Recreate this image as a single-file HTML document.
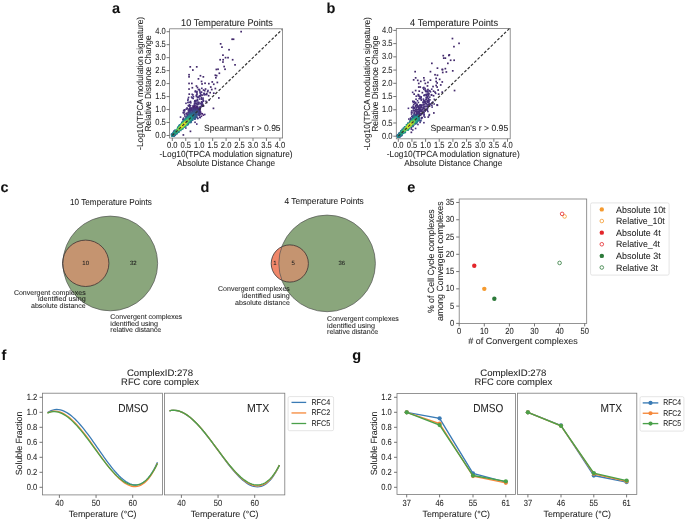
<!DOCTYPE html>
<html><head><meta charset="utf-8"><style>
html,body{margin:0;padding:0;background:#fff;}
svg{display:block;will-change:transform;text-rendering:geometricPrecision;font-family:"Liberation Sans",sans-serif;}
</style></head><body>
<svg width="685" height="520" viewBox="0 0 685 520" fill="#1e1e1e">
<style>text{stroke:#1e1e1e;stroke-width:0.06px;}</style>
<rect width="685" height="520" fill="#fff"/>
<text x="112.00" y="12.70" font-size="14.5" font-weight="bold" fill="#111">a</text>
<text x="326.60" y="12.60" font-size="14.5" font-weight="bold" fill="#111">b</text>
<text x="0.40" y="191.90" font-size="14.5" font-weight="bold" fill="#111">c</text>
<text x="200.60" y="191.90" font-size="14.5" font-weight="bold" fill="#111">d</text>
<text x="407.30" y="192.10" font-size="14.5" font-weight="bold" fill="#111">e</text>
<text x="1.50" y="359.90" font-size="14.5" font-weight="bold" fill="#111">f</text>
<text x="352.30" y="359.60" font-size="14.5" font-weight="bold" fill="#111">g</text>
<rect x="169.60" y="28.80" width="113.00" height="109.20" fill="none" stroke="#7a7a7a" stroke-width="0.8"/>
<line x1="172.30" y1="138.00" x2="172.30" y2="141.00" stroke="#666" stroke-width="0.9" />
<text x="172.30" y="147.60" font-size="8.91" text-anchor="middle" textLength="10.50" lengthAdjust="spacingAndGlyphs">0.0</text>
<line x1="166.60" y1="135.50" x2="169.60" y2="135.50" stroke="#666" stroke-width="0.9" />
<text x="165.80" y="138.10" font-size="8.91" text-anchor="end" textLength="10.50" lengthAdjust="spacingAndGlyphs">0.0</text>
<line x1="185.75" y1="138.00" x2="185.75" y2="141.00" stroke="#666" stroke-width="0.9" />
<text x="185.75" y="147.60" font-size="8.91" text-anchor="middle" textLength="10.50" lengthAdjust="spacingAndGlyphs">0.5</text>
<line x1="166.60" y1="122.53" x2="169.60" y2="122.53" stroke="#666" stroke-width="0.9" />
<text x="165.80" y="125.12" font-size="8.91" text-anchor="end" textLength="10.50" lengthAdjust="spacingAndGlyphs">0.5</text>
<line x1="199.20" y1="138.00" x2="199.20" y2="141.00" stroke="#666" stroke-width="0.9" />
<text x="199.20" y="147.60" font-size="8.91" text-anchor="middle" textLength="10.50" lengthAdjust="spacingAndGlyphs">1.0</text>
<line x1="166.60" y1="109.55" x2="169.60" y2="109.55" stroke="#666" stroke-width="0.9" />
<text x="165.80" y="112.15" font-size="8.91" text-anchor="end" textLength="10.50" lengthAdjust="spacingAndGlyphs">1.0</text>
<line x1="212.65" y1="138.00" x2="212.65" y2="141.00" stroke="#666" stroke-width="0.9" />
<text x="212.65" y="147.60" font-size="8.91" text-anchor="middle" textLength="10.50" lengthAdjust="spacingAndGlyphs">1.5</text>
<line x1="166.60" y1="96.58" x2="169.60" y2="96.58" stroke="#666" stroke-width="0.9" />
<text x="165.80" y="99.17" font-size="8.91" text-anchor="end" textLength="10.50" lengthAdjust="spacingAndGlyphs">1.5</text>
<line x1="226.10" y1="138.00" x2="226.10" y2="141.00" stroke="#666" stroke-width="0.9" />
<text x="226.10" y="147.60" font-size="8.91" text-anchor="middle" textLength="10.50" lengthAdjust="spacingAndGlyphs">2.0</text>
<line x1="166.60" y1="83.60" x2="169.60" y2="83.60" stroke="#666" stroke-width="0.9" />
<text x="165.80" y="86.20" font-size="8.91" text-anchor="end" textLength="10.50" lengthAdjust="spacingAndGlyphs">2.0</text>
<line x1="239.55" y1="138.00" x2="239.55" y2="141.00" stroke="#666" stroke-width="0.9" />
<text x="239.55" y="147.60" font-size="8.91" text-anchor="middle" textLength="10.50" lengthAdjust="spacingAndGlyphs">2.5</text>
<line x1="166.60" y1="70.62" x2="169.60" y2="70.62" stroke="#666" stroke-width="0.9" />
<text x="165.80" y="73.22" font-size="8.91" text-anchor="end" textLength="10.50" lengthAdjust="spacingAndGlyphs">2.5</text>
<line x1="253.00" y1="138.00" x2="253.00" y2="141.00" stroke="#666" stroke-width="0.9" />
<text x="253.00" y="147.60" font-size="8.91" text-anchor="middle" textLength="10.50" lengthAdjust="spacingAndGlyphs">3.0</text>
<line x1="166.60" y1="57.65" x2="169.60" y2="57.65" stroke="#666" stroke-width="0.9" />
<text x="165.80" y="60.25" font-size="8.91" text-anchor="end" textLength="10.50" lengthAdjust="spacingAndGlyphs">3.0</text>
<line x1="266.45" y1="138.00" x2="266.45" y2="141.00" stroke="#666" stroke-width="0.9" />
<text x="266.45" y="147.60" font-size="8.91" text-anchor="middle" textLength="10.50" lengthAdjust="spacingAndGlyphs">3.5</text>
<line x1="166.60" y1="44.67" x2="169.60" y2="44.67" stroke="#666" stroke-width="0.9" />
<text x="165.80" y="47.27" font-size="8.91" text-anchor="end" textLength="10.50" lengthAdjust="spacingAndGlyphs">3.5</text>
<line x1="279.90" y1="138.00" x2="279.90" y2="141.00" stroke="#666" stroke-width="0.9" />
<text x="279.90" y="147.60" font-size="8.91" text-anchor="middle" textLength="10.50" lengthAdjust="spacingAndGlyphs">4.0</text>
<line x1="166.60" y1="31.70" x2="169.60" y2="31.70" stroke="#666" stroke-width="0.9" />
<text x="165.80" y="34.30" font-size="8.91" text-anchor="end" textLength="10.50" lengthAdjust="spacingAndGlyphs">4.0</text>
<text x="227.00" y="26.10" font-size="9.8" text-anchor="middle" textLength="91.80" lengthAdjust="spacingAndGlyphs">10 Temperature Points</text>
<rect x="240.30" y="30.80" width="1.7" height="1.7" fill="#432a6c"/>
<rect x="231.30" y="38.40" width="1.7" height="1.7" fill="#432a6c"/>
<rect x="232.70" y="38.40" width="1.7" height="1.7" fill="#432a6c"/>
<rect x="219.80" y="43.00" width="1.7" height="1.7" fill="#432a6c"/>
<rect x="221.10" y="46.30" width="1.7" height="1.7" fill="#432a6c"/>
<rect x="228.20" y="48.90" width="1.7" height="1.7" fill="#432a6c"/>
<rect x="222.10" y="54.30" width="1.7" height="1.7" fill="#432a6c"/>
<rect x="224.70" y="56.80" width="1.7" height="1.7" fill="#432a6c"/>
<rect x="227.20" y="56.80" width="1.7" height="1.7" fill="#432a6c"/>
<rect x="219.30" y="58.90" width="1.7" height="1.7" fill="#432a6c"/>
<rect x="222.30" y="58.90" width="1.7" height="1.7" fill="#432a6c"/>
<rect x="222.10" y="61.20" width="1.7" height="1.7" fill="#432a6c"/>
<rect x="231.80" y="58.90" width="1.7" height="1.7" fill="#432a6c"/>
<rect x="234.20" y="64.00" width="1.7" height="1.7" fill="#432a6c"/>
<rect x="189.40" y="66.00" width="1.7" height="1.7" fill="#432a6c"/>
<rect x="195.90" y="66.00" width="1.7" height="1.7" fill="#432a6c"/>
<rect x="223.30" y="65.70" width="1.7" height="1.7" fill="#432a6c"/>
<rect x="215.50" y="68.60" width="1.7" height="1.7" fill="#432a6c"/>
<rect x="217.20" y="68.40" width="1.7" height="1.7" fill="#432a6c"/>
<rect x="224.20" y="68.40" width="1.7" height="1.7" fill="#432a6c"/>
<rect x="192.00" y="69.20" width="1.7" height="1.7" fill="#432a6c"/>
<rect x="218.50" y="72.40" width="1.7" height="1.7" fill="#432a6c"/>
<rect x="188.20" y="73.90" width="1.7" height="1.7" fill="#432a6c"/>
<rect x="188.20" y="76.00" width="1.7" height="1.7" fill="#432a6c"/>
<rect x="199.60" y="74.90" width="1.7" height="1.7" fill="#432a6c"/>
<rect x="202.50" y="76.00" width="1.7" height="1.7" fill="#432a6c"/>
<rect x="214.50" y="74.40" width="1.7" height="1.7" fill="#432a6c"/>
<rect x="215.80" y="74.80" width="1.7" height="1.7" fill="#432a6c"/>
<rect x="215.00" y="76.90" width="1.7" height="1.7" fill="#432a6c"/>
<rect x="197.60" y="78.00" width="1.7" height="1.7" fill="#432a6c"/>
<rect x="200.70" y="80.60" width="1.7" height="1.7" fill="#432a6c"/>
<rect x="201.20" y="83.10" width="1.7" height="1.7" fill="#432a6c"/>
<rect x="204.20" y="82.40" width="1.7" height="1.7" fill="#432a6c"/>
<rect x="208.00" y="82.80" width="1.7" height="1.7" fill="#432a6c"/>
<rect x="211.40" y="81.10" width="1.7" height="1.7" fill="#432a6c"/>
<rect x="212.90" y="83.40" width="1.7" height="1.7" fill="#432a6c"/>
<rect x="216.50" y="81.60" width="1.7" height="1.7" fill="#432a6c"/>
<rect x="188.20" y="82.60" width="1.7" height="1.7" fill="#432a6c"/>
<rect x="191.00" y="82.60" width="1.7" height="1.7" fill="#432a6c"/>
<rect x="195.60" y="85.20" width="1.7" height="1.7" fill="#432a6c"/>
<rect x="196.60" y="86.70" width="1.7" height="1.7" fill="#432a6c"/>
<rect x="198.60" y="88.70" width="1.7" height="1.7" fill="#432a6c"/>
<rect x="202.70" y="89.20" width="1.7" height="1.7" fill="#432a6c"/>
<rect x="204.70" y="88.20" width="1.7" height="1.7" fill="#432a6c"/>
<rect x="206.80" y="90.80" width="1.7" height="1.7" fill="#432a6c"/>
<rect x="209.90" y="86.20" width="1.7" height="1.7" fill="#432a6c"/>
<rect x="210.90" y="88.70" width="1.7" height="1.7" fill="#432a6c"/>
<rect x="188.20" y="88.20" width="1.7" height="1.7" fill="#432a6c"/>
<rect x="191.50" y="86.90" width="1.7" height="1.7" fill="#432a6c"/>
<rect x="214.50" y="87.70" width="1.7" height="1.7" fill="#432a6c"/>
<rect x="188.40" y="93.30" width="1.7" height="1.7" fill="#432a6c"/>
<rect x="192.00" y="94.00" width="1.7" height="1.7" fill="#432a6c"/>
<rect x="218.00" y="97.10" width="1.7" height="1.7" fill="#432a6c"/>
<rect x="212.60" y="107.50" width="1.7" height="1.7" fill="#432a6c"/>
<rect x="189.60" y="130.50" width="1.7" height="1.7" fill="#432a6c"/>
<rect x="182.50" y="134.10" width="1.7" height="1.7" fill="#432a6c"/>
<rect x="194.50" y="90.80" width="1.7" height="1.7" fill="#432a6c"/>
<rect x="196.10" y="93.80" width="1.7" height="1.7" fill="#432a6c"/>
<rect x="199.20" y="94.90" width="1.7" height="1.7" fill="#432a6c"/>
<rect x="201.20" y="94.30" width="1.7" height="1.7" fill="#432a6c"/>
<rect x="205.80" y="92.80" width="1.7" height="1.7" fill="#432a6c"/>
<rect x="207.80" y="94.90" width="1.7" height="1.7" fill="#432a6c"/>
<rect x="209.30" y="91.80" width="1.7" height="1.7" fill="#432a6c"/>
<rect x="212.90" y="92.30" width="1.7" height="1.7" fill="#432a6c"/>
<rect x="190.67" y="114.17" width="1.6" height="1.6" fill="#46307a"/>
<rect x="200.77" y="104.40" width="1.6" height="1.6" fill="#46307a"/>
<rect x="187.12" y="120.33" width="1.6" height="1.6" fill="#46307a"/>
<rect x="193.62" y="110.38" width="1.6" height="1.6" fill="#46307a"/>
<rect x="185.49" y="116.11" width="1.6" height="1.6" fill="#46307a"/>
<rect x="193.29" y="112.70" width="1.6" height="1.6" fill="#46307a"/>
<rect x="198.67" y="107.07" width="1.6" height="1.6" fill="#46307a"/>
<rect x="188.57" y="107.95" width="1.6" height="1.6" fill="#46307a"/>
<rect x="192.54" y="112.81" width="1.6" height="1.6" fill="#46307a"/>
<rect x="186.14" y="123.38" width="1.6" height="1.6" fill="#46307a"/>
<rect x="196.95" y="111.20" width="1.6" height="1.6" fill="#46307a"/>
<rect x="194.97" y="114.07" width="1.6" height="1.6" fill="#46307a"/>
<rect x="190.05" y="116.34" width="1.6" height="1.6" fill="#46307a"/>
<rect x="195.80" y="110.33" width="1.6" height="1.6" fill="#46307a"/>
<rect x="188.13" y="116.46" width="1.6" height="1.6" fill="#46307a"/>
<rect x="194.25" y="121.50" width="1.6" height="1.6" fill="#46307a"/>
<rect x="179.73" y="116.32" width="1.6" height="1.6" fill="#46307a"/>
<rect x="189.97" y="117.95" width="1.6" height="1.6" fill="#46307a"/>
<rect x="187.52" y="123.13" width="1.6" height="1.6" fill="#46307a"/>
<rect x="184.08" y="115.24" width="1.6" height="1.6" fill="#46307a"/>
<rect x="196.50" y="105.63" width="1.6" height="1.6" fill="#46307a"/>
<rect x="186.63" y="115.54" width="1.6" height="1.6" fill="#46307a"/>
<rect x="194.14" y="113.91" width="1.6" height="1.6" fill="#46307a"/>
<rect x="198.55" y="111.10" width="1.6" height="1.6" fill="#46307a"/>
<rect x="200.62" y="96.56" width="1.6" height="1.6" fill="#46307a"/>
<rect x="198.74" y="107.69" width="1.6" height="1.6" fill="#46307a"/>
<rect x="193.55" y="118.18" width="1.6" height="1.6" fill="#46307a"/>
<rect x="185.92" y="120.55" width="1.6" height="1.6" fill="#46307a"/>
<rect x="182.31" y="118.83" width="1.6" height="1.6" fill="#46307a"/>
<rect x="203.95" y="113.67" width="1.6" height="1.6" fill="#46307a"/>
<rect x="191.72" y="113.44" width="1.6" height="1.6" fill="#46307a"/>
<rect x="184.09" y="121.60" width="1.6" height="1.6" fill="#46307a"/>
<rect x="194.06" y="107.79" width="1.6" height="1.6" fill="#46307a"/>
<rect x="195.34" y="106.64" width="1.6" height="1.6" fill="#46307a"/>
<rect x="196.00" y="123.27" width="1.6" height="1.6" fill="#46307a"/>
<rect x="198.08" y="108.21" width="1.6" height="1.6" fill="#46307a"/>
<rect x="185.04" y="127.20" width="1.6" height="1.6" fill="#46307a"/>
<rect x="190.12" y="109.60" width="1.6" height="1.6" fill="#46307a"/>
<rect x="192.60" y="114.26" width="1.6" height="1.6" fill="#46307a"/>
<rect x="182.28" y="118.44" width="1.6" height="1.6" fill="#46307a"/>
<rect x="195.87" y="116.46" width="1.6" height="1.6" fill="#46307a"/>
<rect x="201.54" y="102.18" width="1.6" height="1.6" fill="#46307a"/>
<rect x="188.67" y="105.14" width="1.6" height="1.6" fill="#46307a"/>
<rect x="180.96" y="121.90" width="1.6" height="1.6" fill="#46307a"/>
<rect x="198.66" y="108.03" width="1.6" height="1.6" fill="#46307a"/>
<rect x="199.49" y="116.81" width="1.6" height="1.6" fill="#46307a"/>
<rect x="189.01" y="114.27" width="1.6" height="1.6" fill="#46307a"/>
<rect x="191.85" y="115.64" width="1.6" height="1.6" fill="#46307a"/>
<rect x="188.34" y="112.09" width="1.6" height="1.6" fill="#46307a"/>
<rect x="194.05" y="113.54" width="1.6" height="1.6" fill="#46307a"/>
<rect x="193.02" y="112.87" width="1.6" height="1.6" fill="#46307a"/>
<rect x="195.03" y="108.28" width="1.6" height="1.6" fill="#46307a"/>
<rect x="188.82" y="121.25" width="1.6" height="1.6" fill="#46307a"/>
<rect x="195.08" y="110.95" width="1.6" height="1.6" fill="#46307a"/>
<rect x="188.06" y="120.93" width="1.6" height="1.6" fill="#46307a"/>
<rect x="185.10" y="120.82" width="1.6" height="1.6" fill="#46307a"/>
<rect x="194.57" y="113.82" width="1.6" height="1.6" fill="#46307a"/>
<rect x="196.21" y="110.88" width="1.6" height="1.6" fill="#46307a"/>
<rect x="194.57" y="109.76" width="1.6" height="1.6" fill="#46307a"/>
<rect x="191.41" y="116.03" width="1.6" height="1.6" fill="#46307a"/>
<rect x="185.14" y="117.33" width="1.6" height="1.6" fill="#46307a"/>
<rect x="181.28" y="122.51" width="1.6" height="1.6" fill="#46307a"/>
<rect x="198.28" y="109.32" width="1.6" height="1.6" fill="#46307a"/>
<rect x="194.91" y="112.45" width="1.6" height="1.6" fill="#46307a"/>
<rect x="196.61" y="110.07" width="1.6" height="1.6" fill="#46307a"/>
<rect x="190.10" y="120.03" width="1.6" height="1.6" fill="#46307a"/>
<rect x="186.35" y="120.44" width="1.6" height="1.6" fill="#46307a"/>
<rect x="193.19" y="117.26" width="1.6" height="1.6" fill="#46307a"/>
<rect x="197.58" y="107.96" width="1.6" height="1.6" fill="#46307a"/>
<rect x="199.51" y="112.16" width="1.6" height="1.6" fill="#46307a"/>
<rect x="183.21" y="122.22" width="1.6" height="1.6" fill="#46307a"/>
<rect x="194.01" y="113.18" width="1.6" height="1.6" fill="#46307a"/>
<rect x="195.90" y="107.13" width="1.6" height="1.6" fill="#46307a"/>
<rect x="187.54" y="116.99" width="1.6" height="1.6" fill="#46307a"/>
<rect x="190.47" y="120.91" width="1.6" height="1.6" fill="#46307a"/>
<rect x="183.62" y="119.48" width="1.6" height="1.6" fill="#46307a"/>
<rect x="199.19" y="110.84" width="1.6" height="1.6" fill="#46307a"/>
<rect x="194.53" y="113.85" width="1.6" height="1.6" fill="#46307a"/>
<rect x="197.12" y="106.67" width="1.6" height="1.6" fill="#46307a"/>
<rect x="191.19" y="111.56" width="1.6" height="1.6" fill="#46307a"/>
<rect x="196.34" y="107.35" width="1.6" height="1.6" fill="#46307a"/>
<rect x="187.48" y="104.85" width="1.6" height="1.6" fill="#46307a"/>
<rect x="187.50" y="109.26" width="1.6" height="1.6" fill="#46307a"/>
<rect x="189.18" y="106.56" width="1.6" height="1.6" fill="#46307a"/>
<rect x="185.34" y="108.36" width="1.6" height="1.6" fill="#46307a"/>
<rect x="201.25" y="101.52" width="1.6" height="1.6" fill="#46307a"/>
<rect x="200.16" y="93.91" width="1.6" height="1.6" fill="#46307a"/>
<rect x="198.24" y="110.46" width="1.6" height="1.6" fill="#46307a"/>
<rect x="186.36" y="115.30" width="1.6" height="1.6" fill="#46307a"/>
<rect x="192.12" y="105.20" width="1.6" height="1.6" fill="#46307a"/>
<rect x="197.97" y="101.88" width="1.6" height="1.6" fill="#46307a"/>
<rect x="189.80" y="117.11" width="1.6" height="1.6" fill="#46307a"/>
<rect x="196.80" y="99.41" width="1.6" height="1.6" fill="#46307a"/>
<rect x="187.29" y="113.39" width="1.6" height="1.6" fill="#46307a"/>
<rect x="185.89" y="118.88" width="1.6" height="1.6" fill="#46307a"/>
<rect x="189.11" y="115.12" width="1.6" height="1.6" fill="#46307a"/>
<rect x="191.72" y="112.23" width="1.6" height="1.6" fill="#46307a"/>
<rect x="191.99" y="110.28" width="1.6" height="1.6" fill="#46307a"/>
<rect x="201.21" y="104.01" width="1.6" height="1.6" fill="#46307a"/>
<rect x="191.33" y="110.19" width="1.6" height="1.6" fill="#46307a"/>
<rect x="189.31" y="118.92" width="1.6" height="1.6" fill="#46307a"/>
<rect x="200.62" y="91.52" width="1.6" height="1.6" fill="#46307a"/>
<rect x="189.04" y="108.47" width="1.6" height="1.6" fill="#46307a"/>
<rect x="190.50" y="115.61" width="1.6" height="1.6" fill="#46307a"/>
<rect x="203.26" y="92.55" width="1.6" height="1.6" fill="#46307a"/>
<rect x="202.60" y="99.99" width="1.6" height="1.6" fill="#46307a"/>
<rect x="192.85" y="115.50" width="1.6" height="1.6" fill="#46307a"/>
<rect x="186.54" y="107.95" width="1.6" height="1.6" fill="#46307a"/>
<rect x="192.80" y="107.35" width="1.6" height="1.6" fill="#46307a"/>
<rect x="191.39" y="93.51" width="1.6" height="1.6" fill="#46307a"/>
<rect x="200.92" y="98.42" width="1.6" height="1.6" fill="#46307a"/>
<rect x="192.41" y="97.68" width="1.6" height="1.6" fill="#46307a"/>
<rect x="186.81" y="114.36" width="1.6" height="1.6" fill="#46307a"/>
<rect x="203.34" y="92.90" width="1.6" height="1.6" fill="#46307a"/>
<rect x="194.76" y="99.73" width="1.6" height="1.6" fill="#46307a"/>
<rect x="187.13" y="116.70" width="1.6" height="1.6" fill="#46307a"/>
<rect x="183.80" y="113.64" width="1.6" height="1.6" fill="#46307a"/>
<rect x="194.28" y="100.05" width="1.6" height="1.6" fill="#46307a"/>
<rect x="188.03" y="111.11" width="1.6" height="1.6" fill="#46307a"/>
<rect x="197.20" y="108.26" width="1.6" height="1.6" fill="#46307a"/>
<rect x="197.17" y="96.61" width="1.6" height="1.6" fill="#46307a"/>
<rect x="186.82" y="120.16" width="1.6" height="1.6" fill="#46307a"/>
<rect x="198.72" y="95.06" width="1.6" height="1.6" fill="#46307a"/>
<rect x="199.25" y="105.87" width="1.6" height="1.6" fill="#46307a"/>
<rect x="203.28" y="94.04" width="1.6" height="1.6" fill="#46307a"/>
<rect x="199.73" y="106.61" width="1.6" height="1.6" fill="#46307a"/>
<rect x="198.85" y="89.90" width="1.6" height="1.6" fill="#46307a"/>
<rect x="193.53" y="110.09" width="1.6" height="1.6" fill="#46307a"/>
<rect x="185.20" y="102.53" width="1.6" height="1.6" fill="#46307a"/>
<rect x="188.34" y="119.98" width="1.6" height="1.6" fill="#46307a"/>
<rect x="205.84" y="101.80" width="1.6" height="1.6" fill="#46307a"/>
<rect x="196.82" y="96.32" width="1.6" height="1.6" fill="#46307a"/>
<rect x="201.01" y="87.52" width="1.6" height="1.6" fill="#46307a"/>
<rect x="188.98" y="112.73" width="1.6" height="1.6" fill="#46307a"/>
<rect x="199.52" y="92.67" width="1.6" height="1.6" fill="#46307a"/>
<rect x="188.57" y="110.07" width="1.6" height="1.6" fill="#46307a"/>
<rect x="188.66" y="103.84" width="1.6" height="1.6" fill="#46307a"/>
<rect x="190.54" y="112.86" width="1.6" height="1.6" fill="#46307a"/>
<rect x="194.50" y="100.41" width="1.6" height="1.6" fill="#46307a"/>
<rect x="196.65" y="111.37" width="1.6" height="1.6" fill="#46307a"/>
<rect x="189.75" y="107.40" width="1.6" height="1.6" fill="#46307a"/>
<rect x="193.44" y="105.99" width="1.6" height="1.6" fill="#46307a"/>
<rect x="195.85" y="109.50" width="1.6" height="1.6" fill="#46307a"/>
<rect x="200.20" y="102.38" width="1.6" height="1.6" fill="#46307a"/>
<rect x="198.26" y="112.31" width="1.6" height="1.6" fill="#46307a"/>
<rect x="183.68" y="110.08" width="1.6" height="1.6" fill="#46307a"/>
<rect x="189.63" y="112.79" width="1.6" height="1.6" fill="#46307a"/>
<rect x="197.89" y="102.60" width="1.6" height="1.6" fill="#46307a"/>
<rect x="194.72" y="108.93" width="1.6" height="1.6" fill="#46307a"/>
<rect x="191.10" y="116.16" width="1.6" height="1.6" fill="#46307a"/>
<rect x="193.73" y="101.19" width="1.6" height="1.6" fill="#46307a"/>
<rect x="194.35" y="107.00" width="1.6" height="1.6" fill="#46307a"/>
<rect x="194.65" y="90.20" width="1.6" height="1.6" fill="#46307a"/>
<rect x="189.78" y="100.69" width="1.6" height="1.6" fill="#46307a"/>
<rect x="183.15" y="111.94" width="1.6" height="1.6" fill="#46307a"/>
<rect x="187.14" y="116.30" width="1.6" height="1.6" fill="#46307a"/>
<rect x="187.20" y="111.60" width="1.6" height="1.6" fill="#46307a"/>
<rect x="205.21" y="100.47" width="1.6" height="1.6" fill="#46307a"/>
<rect x="185.54" y="112.95" width="1.6" height="1.6" fill="#46307a"/>
<rect x="193.44" y="108.57" width="1.6" height="1.6" fill="#46307a"/>
<rect x="183.75" y="109.62" width="1.6" height="1.6" fill="#46307a"/>
<rect x="199.03" y="95.47" width="1.6" height="1.6" fill="#46307a"/>
<rect x="187.05" y="99.55" width="1.6" height="1.6" fill="#46307a"/>
<rect x="182.81" y="117.32" width="1.6" height="1.6" fill="#46307a"/>
<rect x="189.77" y="104.85" width="1.6" height="1.6" fill="#46307a"/>
<rect x="195.00" y="116.50" width="1.6" height="1.6" fill="#46307a"/>
<rect x="194.15" y="110.08" width="1.6" height="1.6" fill="#46307a"/>
<rect x="200.24" y="105.90" width="1.6" height="1.6" fill="#46307a"/>
<rect x="192.99" y="114.95" width="1.6" height="1.6" fill="#46307a"/>
<rect x="187.09" y="101.70" width="1.6" height="1.6" fill="#46307a"/>
<rect x="196.19" y="92.35" width="1.6" height="1.6" fill="#46307a"/>
<rect x="196.21" y="90.79" width="1.6" height="1.6" fill="#46307a"/>
<rect x="186.12" y="113.15" width="1.6" height="1.6" fill="#46307a"/>
<rect x="198.89" y="98.24" width="1.6" height="1.6" fill="#46307a"/>
<rect x="201.91" y="105.09" width="1.6" height="1.6" fill="#46307a"/>
<rect x="188.88" y="115.13" width="1.6" height="1.6" fill="#46307a"/>
<rect x="194.07" y="100.02" width="1.6" height="1.6" fill="#46307a"/>
<rect x="189.88" y="109.37" width="1.6" height="1.6" fill="#46307a"/>
<rect x="193.57" y="114.31" width="1.6" height="1.6" fill="#46307a"/>
<rect x="196.83" y="101.25" width="1.6" height="1.6" fill="#46307a"/>
<rect x="196.92" y="103.81" width="1.6" height="1.6" fill="#46307a"/>
<rect x="194.01" y="108.07" width="1.6" height="1.6" fill="#46307a"/>
<rect x="197.26" y="110.81" width="1.6" height="1.6" fill="#46307a"/>
<rect x="186.88" y="115.90" width="1.6" height="1.6" fill="#46307a"/>
<rect x="201.23" y="104.79" width="1.6" height="1.6" fill="#46307a"/>
<rect x="189.99" y="102.03" width="1.6" height="1.6" fill="#46307a"/>
<rect x="204.57" y="93.81" width="1.6" height="1.6" fill="#46307a"/>
<rect x="195.65" y="95.75" width="1.6" height="1.6" fill="#46307a"/>
<rect x="188.32" y="108.60" width="1.6" height="1.6" fill="#46307a"/>
<rect x="188.51" y="113.93" width="1.6" height="1.6" fill="#46307a"/>
<rect x="196.71" y="109.67" width="1.6" height="1.6" fill="#46307a"/>
<rect x="189.61" y="111.17" width="1.6" height="1.6" fill="#46307a"/>
<rect x="195.48" y="100.09" width="1.6" height="1.6" fill="#46307a"/>
<rect x="192.68" y="95.92" width="1.6" height="1.6" fill="#46307a"/>
<rect x="182.43" y="111.86" width="1.6" height="1.6" fill="#46307a"/>
<rect x="202.71" y="105.35" width="1.6" height="1.6" fill="#46307a"/>
<rect x="188.74" y="117.58" width="1.6" height="1.6" fill="#46307a"/>
<rect x="202.26" y="98.57" width="1.6" height="1.6" fill="#46307a"/>
<rect x="200.78" y="100.94" width="1.6" height="1.6" fill="#46307a"/>
<rect x="202.24" y="97.30" width="1.6" height="1.6" fill="#46307a"/>
<rect x="197.98" y="101.60" width="1.6" height="1.6" fill="#46307a"/>
<rect x="186.40" y="117.12" width="1.6" height="1.6" fill="#46307a"/>
<rect x="195.20" y="110.93" width="1.6" height="1.6" fill="#46307a"/>
<rect x="195.47" y="105.94" width="1.6" height="1.6" fill="#46307a"/>
<rect x="198.86" y="109.55" width="1.6" height="1.6" fill="#46307a"/>
<rect x="190.98" y="114.09" width="1.6" height="1.6" fill="#46307a"/>
<rect x="197.84" y="96.46" width="1.6" height="1.6" fill="#46307a"/>
<rect x="188.43" y="109.79" width="1.6" height="1.6" fill="#46307a"/>
<rect x="195.45" y="94.61" width="1.6" height="1.6" fill="#46307a"/>
<rect x="195.57" y="109.71" width="1.6" height="1.6" fill="#46307a"/>
<rect x="188.95" y="105.02" width="1.6" height="1.6" fill="#46307a"/>
<rect x="188.11" y="105.14" width="1.6" height="1.6" fill="#46307a"/>
<rect x="207.19" y="89.69" width="1.6" height="1.6" fill="#46307a"/>
<rect x="199.44" y="109.13" width="1.6" height="1.6" fill="#46307a"/>
<rect x="202.53" y="100.30" width="1.6" height="1.6" fill="#46307a"/>
<rect x="191.76" y="109.36" width="1.6" height="1.6" fill="#46307a"/>
<rect x="198.50" y="95.82" width="1.6" height="1.6" fill="#46307a"/>
<rect x="196.35" y="103.64" width="1.6" height="1.6" fill="#46307a"/>
<rect x="200.71" y="91.49" width="1.6" height="1.6" fill="#46307a"/>
<rect x="188.39" y="113.95" width="1.6" height="1.6" fill="#46307a"/>
<rect x="194.60" y="101.12" width="1.6" height="1.6" fill="#46307a"/>
<rect x="193.70" y="110.53" width="1.6" height="1.6" fill="#46307a"/>
<rect x="195.78" y="91.37" width="1.6" height="1.6" fill="#46307a"/>
<rect x="191.72" y="113.27" width="1.6" height="1.6" fill="#46307a"/>
<rect x="186.24" y="107.12" width="1.6" height="1.6" fill="#46307a"/>
<rect x="192.41" y="112.38" width="1.6" height="1.6" fill="#46307a"/>
<rect x="198.82" y="108.65" width="1.6" height="1.6" fill="#46307a"/>
<rect x="190.21" y="108.09" width="1.6" height="1.6" fill="#46307a"/>
<rect x="197.67" y="88.72" width="1.6" height="1.6" fill="#46307a"/>
<rect x="190.31" y="108.69" width="1.6" height="1.6" fill="#46307a"/>
<rect x="190.80" y="96.24" width="1.6" height="1.6" fill="#46307a"/>
<rect x="193.65" y="102.98" width="1.6" height="1.6" fill="#46307a"/>
<rect x="192.97" y="109.03" width="1.6" height="1.6" fill="#46307a"/>
<rect x="189.38" y="109.96" width="1.6" height="1.6" fill="#46307a"/>
<rect x="187.27" y="98.32" width="1.6" height="1.6" fill="#46307a"/>
<rect x="202.06" y="103.72" width="1.6" height="1.6" fill="#46307a"/>
<rect x="195.94" y="106.37" width="1.6" height="1.6" fill="#46307a"/>
<rect x="192.91" y="107.87" width="1.6" height="1.6" fill="#46307a"/>
<rect x="199.15" y="91.28" width="1.6" height="1.6" fill="#46307a"/>
<rect x="185.63" y="112.46" width="1.6" height="1.6" fill="#46307a"/>
<rect x="189.18" y="115.36" width="1.6" height="1.6" fill="#46307a"/>
<rect x="196.67" y="106.27" width="1.6" height="1.6" fill="#46307a"/>
<rect x="196.58" y="98.58" width="1.6" height="1.6" fill="#46307a"/>
<rect x="192.39" y="106.62" width="1.6" height="1.6" fill="#46307a"/>
<rect x="203.96" y="89.97" width="1.6" height="1.6" fill="#46307a"/>
<rect x="192.16" y="109.20" width="1.6" height="1.6" fill="#46307a"/>
<rect x="196.46" y="103.25" width="1.6" height="1.6" fill="#46307a"/>
<rect x="185.01" y="118.49" width="1.6" height="1.6" fill="#46307a"/>
<rect x="183.64" y="108.99" width="1.6" height="1.6" fill="#46307a"/>
<rect x="187.80" y="96.64" width="1.6" height="1.6" fill="#46307a"/>
<rect x="208.31" y="99.26" width="1.6" height="1.6" fill="#46307a"/>
<rect x="195.57" y="102.37" width="1.6" height="1.6" fill="#46307a"/>
<rect x="201.32" y="103.65" width="1.6" height="1.6" fill="#46307a"/>
<rect x="182.85" y="111.70" width="1.6" height="1.6" fill="#46307a"/>
<rect x="198.06" y="103.20" width="1.6" height="1.6" fill="#46307a"/>
<rect x="195.14" y="108.96" width="1.6" height="1.6" fill="#46307a"/>
<rect x="192.27" y="112.63" width="1.6" height="1.6" fill="#46307a"/>
<rect x="199.86" y="102.97" width="1.6" height="1.6" fill="#46307a"/>
<rect x="192.31" y="115.36" width="1.6" height="1.6" fill="#46307a"/>
<rect x="195.58" y="107.63" width="1.6" height="1.6" fill="#46307a"/>
<rect x="193.55" y="111.51" width="1.6" height="1.6" fill="#46307a"/>
<rect x="194.00" y="102.99" width="1.6" height="1.6" fill="#46307a"/>
<rect x="194.34" y="111.00" width="1.6" height="1.6" fill="#46307a"/>
<rect x="186.46" y="115.60" width="1.6" height="1.6" fill="#46307a"/>
<rect x="188.33" y="101.50" width="1.6" height="1.6" fill="#46307a"/>
<rect x="193.89" y="109.93" width="1.6" height="1.6" fill="#46307a"/>
<rect x="193.16" y="109.36" width="1.6" height="1.6" fill="#46307a"/>
<rect x="205.89" y="93.77" width="1.6" height="1.6" fill="#46307a"/>
<rect x="201.02" y="101.69" width="1.6" height="1.6" fill="#46307a"/>
<rect x="195.08" y="104.70" width="1.6" height="1.6" fill="#46307a"/>
<rect x="200.62" y="98.01" width="1.6" height="1.6" fill="#46307a"/>
<rect x="192.30" y="113.55" width="1.6" height="1.6" fill="#46307a"/>
<rect x="182.86" y="109.85" width="1.6" height="1.6" fill="#46307a"/>
<rect x="191.39" y="97.18" width="1.6" height="1.6" fill="#46307a"/>
<rect x="189.58" y="108.21" width="1.6" height="1.6" fill="#46307a"/>
<rect x="193.46" y="104.36" width="1.6" height="1.6" fill="#46307a"/>
<rect x="194.73" y="102.80" width="1.6" height="1.6" fill="#46307a"/>
<rect x="202.60" y="114.33" width="1.6" height="1.6" fill="#461868"/>
<rect x="193.09" y="105.41" width="1.6" height="1.6" fill="#461c6c"/>
<rect x="201.53" y="112.99" width="1.6" height="1.6" fill="#461d6d"/>
<rect x="195.66" y="106.08" width="1.6" height="1.6" fill="#461f6e"/>
<rect x="201.13" y="112.88" width="1.6" height="1.6" fill="#46206f"/>
<rect x="195.46" y="106.30" width="1.6" height="1.6" fill="#462170"/>
<rect x="192.52" y="106.32" width="1.6" height="1.6" fill="#462271"/>
<rect x="200.65" y="115.45" width="1.6" height="1.6" fill="#462272"/>
<rect x="193.04" y="106.76" width="1.6" height="1.6" fill="#472674"/>
<rect x="191.06" y="107.30" width="1.6" height="1.6" fill="#472776"/>
<rect x="190.90" y="107.56" width="1.6" height="1.6" fill="#472977"/>
<rect x="197.45" y="108.00" width="1.6" height="1.6" fill="#472977"/>
<rect x="199.83" y="111.35" width="1.6" height="1.6" fill="#472978"/>
<rect x="190.64" y="107.98" width="1.6" height="1.6" fill="#472b79"/>
<rect x="194.99" y="107.41" width="1.6" height="1.6" fill="#472c7a"/>
<rect x="198.94" y="116.44" width="1.6" height="1.6" fill="#472c7a"/>
<rect x="196.39" y="107.77" width="1.6" height="1.6" fill="#472c7a"/>
<rect x="199.35" y="111.45" width="1.6" height="1.6" fill="#462e7b"/>
<rect x="199.30" y="113.59" width="1.6" height="1.6" fill="#462f7b"/>
<rect x="192.35" y="108.09" width="1.6" height="1.6" fill="#46307c"/>
<rect x="197.81" y="109.21" width="1.6" height="1.6" fill="#46307c"/>
<rect x="195.49" y="108.14" width="1.6" height="1.6" fill="#45327d"/>
<rect x="189.77" y="109.38" width="1.6" height="1.6" fill="#45327d"/>
<rect x="198.63" y="114.66" width="1.6" height="1.6" fill="#45337d"/>
<rect x="197.36" y="109.28" width="1.6" height="1.6" fill="#44347e"/>
<rect x="193.14" y="108.37" width="1.6" height="1.6" fill="#44347e"/>
<rect x="197.49" y="109.58" width="1.6" height="1.6" fill="#44357e"/>
<rect x="194.17" y="108.39" width="1.6" height="1.6" fill="#44357e"/>
<rect x="197.01" y="117.56" width="1.6" height="1.6" fill="#44357e"/>
<rect x="198.60" y="112.86" width="1.6" height="1.6" fill="#44367f"/>
<rect x="196.80" y="117.68" width="1.6" height="1.6" fill="#44377f"/>
<rect x="195.98" y="108.81" width="1.6" height="1.6" fill="#44377f"/>
<rect x="198.13" y="114.07" width="1.6" height="1.6" fill="#433980"/>
<rect x="193.50" y="108.91" width="1.6" height="1.6" fill="#423a80"/>
<rect x="198.17" y="113.23" width="1.6" height="1.6" fill="#423a81"/>
<rect x="198.18" y="113.11" width="1.6" height="1.6" fill="#423a81"/>
<rect x="198.03" y="111.82" width="1.6" height="1.6" fill="#423b81"/>
<rect x="196.62" y="109.75" width="1.6" height="1.6" fill="#423c81"/>
<rect x="197.81" y="114.13" width="1.6" height="1.6" fill="#423c81"/>
<rect x="196.07" y="109.50" width="1.6" height="1.6" fill="#423d82"/>
<rect x="196.19" y="109.69" width="1.6" height="1.6" fill="#413e82"/>
<rect x="197.19" y="110.72" width="1.6" height="1.6" fill="#413f83"/>
<rect x="192.46" y="109.79" width="1.6" height="1.6" fill="#404184"/>
<rect x="197.21" y="111.38" width="1.6" height="1.6" fill="#404284"/>
<rect x="196.17" y="116.52" width="1.6" height="1.6" fill="#404384"/>
<rect x="189.34" y="111.39" width="1.6" height="1.6" fill="#3f4385"/>
<rect x="192.60" y="110.05" width="1.6" height="1.6" fill="#3f4585"/>
<rect x="193.88" y="109.84" width="1.6" height="1.6" fill="#3f4585"/>
<rect x="189.60" y="111.61" width="1.6" height="1.6" fill="#3e4887"/>
<rect x="196.88" y="113.30" width="1.6" height="1.6" fill="#3e4887"/>
<rect x="195.83" y="110.74" width="1.6" height="1.6" fill="#3e4987"/>
<rect x="190.36" y="111.39" width="1.6" height="1.6" fill="#3d4988"/>
<rect x="195.56" y="110.68" width="1.6" height="1.6" fill="#3d4a88"/>
<rect x="192.89" y="110.41" width="1.6" height="1.6" fill="#3d4a88"/>
<rect x="196.20" y="111.55" width="1.6" height="1.6" fill="#3d4b88"/>
<rect x="194.96" y="110.60" width="1.6" height="1.6" fill="#3d4c88"/>
<rect x="188.25" y="112.66" width="1.6" height="1.6" fill="#3d4c89"/>
<rect x="194.27" y="110.52" width="1.6" height="1.6" fill="#3c4c89"/>
<rect x="196.16" y="111.76" width="1.6" height="1.6" fill="#3c4d89"/>
<rect x="196.14" y="114.83" width="1.6" height="1.6" fill="#3c4d89"/>
<rect x="173.30" y="135.17" width="1.6" height="1.6" fill="#3c4e8a"/>
<rect x="195.84" y="111.51" width="1.6" height="1.6" fill="#3c4e8a"/>
<rect x="194.86" y="110.83" width="1.6" height="1.6" fill="#3c4e8a"/>
<rect x="194.34" y="118.18" width="1.6" height="1.6" fill="#3c4e8a"/>
<rect x="188.95" y="112.48" width="1.6" height="1.6" fill="#3c4f8a"/>
<rect x="194.08" y="110.83" width="1.6" height="1.6" fill="#3b508b"/>
<rect x="195.31" y="116.10" width="1.6" height="1.6" fill="#3b518b"/>
<rect x="170.75" y="133.46" width="1.6" height="1.6" fill="#3b518b"/>
<rect x="194.81" y="111.22" width="1.6" height="1.6" fill="#3b528b"/>
<rect x="173.94" y="134.57" width="1.6" height="1.6" fill="#3a538b"/>
<rect x="195.16" y="115.81" width="1.6" height="1.6" fill="#3a548b"/>
<rect x="195.75" y="113.33" width="1.6" height="1.6" fill="#39558b"/>
<rect x="193.96" y="118.00" width="1.6" height="1.6" fill="#39558b"/>
<rect x="194.46" y="111.51" width="1.6" height="1.6" fill="#39558b"/>
<rect x="192.45" y="111.47" width="1.6" height="1.6" fill="#39568b"/>
<rect x="194.68" y="111.69" width="1.6" height="1.6" fill="#39568b"/>
<rect x="194.99" y="111.94" width="1.6" height="1.6" fill="#39568b"/>
<rect x="195.38" y="112.48" width="1.6" height="1.6" fill="#39568b"/>
<rect x="173.95" y="134.41" width="1.6" height="1.6" fill="#38578c"/>
<rect x="195.43" y="114.09" width="1.6" height="1.6" fill="#38578c"/>
<rect x="190.47" y="112.34" width="1.6" height="1.6" fill="#38588c"/>
<rect x="194.34" y="116.96" width="1.6" height="1.6" fill="#38588c"/>
<rect x="173.19" y="130.55" width="1.6" height="1.6" fill="#37598c"/>
<rect x="172.76" y="135.24" width="1.6" height="1.6" fill="#37598c"/>
<rect x="172.62" y="135.33" width="1.6" height="1.6" fill="#37598c"/>
<rect x="174.61" y="133.86" width="1.6" height="1.6" fill="#375a8c"/>
<rect x="194.87" y="112.65" width="1.6" height="1.6" fill="#375a8c"/>
<rect x="173.44" y="130.27" width="1.6" height="1.6" fill="#375a8c"/>
<rect x="193.56" y="111.89" width="1.6" height="1.6" fill="#375a8c"/>
<rect x="192.66" y="111.98" width="1.6" height="1.6" fill="#365c8c"/>
<rect x="172.61" y="135.28" width="1.6" height="1.6" fill="#365c8c"/>
<rect x="194.86" y="114.83" width="1.6" height="1.6" fill="#365c8c"/>
<rect x="193.54" y="112.13" width="1.6" height="1.6" fill="#365d8c"/>
<rect x="194.00" y="116.96" width="1.6" height="1.6" fill="#355d8c"/>
<rect x="173.77" y="134.39" width="1.6" height="1.6" fill="#355d8c"/>
<rect x="194.44" y="112.72" width="1.6" height="1.6" fill="#355d8c"/>
<rect x="175.98" y="132.80" width="1.6" height="1.6" fill="#355e8c"/>
<rect x="191.59" y="112.45" width="1.6" height="1.6" fill="#355e8c"/>
<rect x="194.20" y="116.35" width="1.6" height="1.6" fill="#355e8c"/>
<rect x="172.56" y="131.64" width="1.6" height="1.6" fill="#355e8c"/>
<rect x="175.83" y="132.86" width="1.6" height="1.6" fill="#345f8c"/>
<rect x="174.29" y="129.32" width="1.6" height="1.6" fill="#34608c"/>
<rect x="171.38" y="133.21" width="1.6" height="1.6" fill="#34618c"/>
<rect x="185.51" y="116.20" width="1.6" height="1.6" fill="#33618d"/>
<rect x="194.15" y="115.84" width="1.6" height="1.6" fill="#33618d"/>
<rect x="193.67" y="116.90" width="1.6" height="1.6" fill="#33628d"/>
<rect x="189.34" y="113.61" width="1.6" height="1.6" fill="#33638d"/>
<rect x="173.38" y="130.75" width="1.6" height="1.6" fill="#32638d"/>
<rect x="189.55" y="113.56" width="1.6" height="1.6" fill="#32638d"/>
<rect x="188.75" y="114.07" width="1.6" height="1.6" fill="#32648d"/>
<rect x="189.90" y="121.67" width="1.6" height="1.6" fill="#31668d"/>
<rect x="192.83" y="113.06" width="1.6" height="1.6" fill="#31668d"/>
<rect x="177.99" y="131.23" width="1.6" height="1.6" fill="#31668d"/>
<rect x="193.90" y="114.54" width="1.6" height="1.6" fill="#31678d"/>
<rect x="191.86" y="119.29" width="1.6" height="1.6" fill="#31678d"/>
<rect x="188.12" y="114.63" width="1.6" height="1.6" fill="#31678d"/>
<rect x="193.04" y="117.45" width="1.6" height="1.6" fill="#30678d"/>
<rect x="170.97" y="133.91" width="1.6" height="1.6" fill="#30688d"/>
<rect x="189.87" y="121.47" width="1.6" height="1.6" fill="#30698d"/>
<rect x="191.72" y="113.28" width="1.6" height="1.6" fill="#2f6a8d"/>
<rect x="188.68" y="114.43" width="1.6" height="1.6" fill="#2f6a8d"/>
<rect x="172.42" y="135.10" width="1.6" height="1.6" fill="#2f6a8d"/>
<rect x="193.53" y="114.68" width="1.6" height="1.6" fill="#2f6b8d"/>
<rect x="193.51" y="114.71" width="1.6" height="1.6" fill="#2f6b8d"/>
<rect x="193.41" y="114.37" width="1.6" height="1.6" fill="#2f6b8d"/>
<rect x="190.40" y="113.66" width="1.6" height="1.6" fill="#2f6b8d"/>
<rect x="187.39" y="115.34" width="1.6" height="1.6" fill="#2f6b8d"/>
<rect x="184.55" y="117.74" width="1.6" height="1.6" fill="#2f6c8d"/>
<rect x="193.36" y="114.37" width="1.6" height="1.6" fill="#2e6c8e"/>
<rect x="193.41" y="114.53" width="1.6" height="1.6" fill="#2e6c8e"/>
<rect x="173.00" y="134.60" width="1.6" height="1.6" fill="#2e6d8e"/>
<rect x="172.07" y="132.69" width="1.6" height="1.6" fill="#2e6d8e"/>
<rect x="193.21" y="114.38" width="1.6" height="1.6" fill="#2e6d8e"/>
<rect x="170.87" y="134.16" width="1.6" height="1.6" fill="#2e6d8e"/>
<rect x="193.22" y="114.42" width="1.6" height="1.6" fill="#2e6d8e"/>
<rect x="173.03" y="134.55" width="1.6" height="1.6" fill="#2d6e8e"/>
<rect x="193.18" y="114.96" width="1.6" height="1.6" fill="#2d708e"/>
<rect x="188.70" y="114.74" width="1.6" height="1.6" fill="#2d708e"/>
<rect x="188.01" y="115.19" width="1.6" height="1.6" fill="#2c718e"/>
<rect x="175.12" y="132.91" width="1.6" height="1.6" fill="#2c718e"/>
<rect x="179.95" y="129.61" width="1.6" height="1.6" fill="#2c718e"/>
<rect x="172.20" y="132.65" width="1.6" height="1.6" fill="#2c728e"/>
<rect x="191.31" y="119.27" width="1.6" height="1.6" fill="#2c728e"/>
<rect x="189.68" y="114.33" width="1.6" height="1.6" fill="#2c728e"/>
<rect x="189.79" y="114.29" width="1.6" height="1.6" fill="#2c728e"/>
<rect x="192.23" y="117.79" width="1.6" height="1.6" fill="#2c728e"/>
<rect x="192.29" y="114.17" width="1.6" height="1.6" fill="#2b738e"/>
<rect x="190.21" y="120.56" width="1.6" height="1.6" fill="#2b738e"/>
<rect x="171.27" y="133.84" width="1.6" height="1.6" fill="#2b748e"/>
<rect x="192.81" y="116.14" width="1.6" height="1.6" fill="#2b748e"/>
<rect x="191.60" y="118.64" width="1.6" height="1.6" fill="#2b758e"/>
<rect x="192.10" y="114.32" width="1.6" height="1.6" fill="#2a758e"/>
<rect x="176.60" y="131.78" width="1.6" height="1.6" fill="#2a768e"/>
<rect x="188.27" y="115.27" width="1.6" height="1.6" fill="#2a768e"/>
<rect x="177.00" y="126.45" width="1.6" height="1.6" fill="#2a768e"/>
<rect x="189.10" y="114.83" width="1.6" height="1.6" fill="#2a768e"/>
<rect x="171.86" y="135.27" width="1.6" height="1.6" fill="#2a778e"/>
<rect x="177.81" y="130.89" width="1.6" height="1.6" fill="#2a778e"/>
<rect x="178.22" y="124.96" width="1.6" height="1.6" fill="#297a8e"/>
<rect x="173.97" y="133.59" width="1.6" height="1.6" fill="#297b8e"/>
<rect x="189.13" y="121.32" width="1.6" height="1.6" fill="#287b8e"/>
<rect x="171.57" y="133.67" width="1.6" height="1.6" fill="#287c8e"/>
<rect x="187.73" y="115.85" width="1.6" height="1.6" fill="#287c8e"/>
<rect x="186.90" y="123.78" width="1.6" height="1.6" fill="#287c8e"/>
<rect x="181.96" y="127.93" width="1.6" height="1.6" fill="#287c8e"/>
<rect x="188.66" y="121.76" width="1.6" height="1.6" fill="#287c8e"/>
<rect x="186.66" y="124.00" width="1.6" height="1.6" fill="#287c8e"/>
<rect x="178.69" y="124.44" width="1.6" height="1.6" fill="#287d8e"/>
<rect x="172.13" y="134.93" width="1.6" height="1.6" fill="#287d8e"/>
<rect x="182.36" y="120.35" width="1.6" height="1.6" fill="#287e8e"/>
<rect x="191.39" y="114.79" width="1.6" height="1.6" fill="#277e8e"/>
<rect x="178.94" y="124.15" width="1.6" height="1.6" fill="#277e8e"/>
<rect x="184.33" y="118.76" width="1.6" height="1.6" fill="#277e8e"/>
<rect x="190.74" y="114.78" width="1.6" height="1.6" fill="#277f8e"/>
<rect x="172.78" y="134.41" width="1.6" height="1.6" fill="#277f8e"/>
<rect x="182.14" y="120.65" width="1.6" height="1.6" fill="#27808e"/>
<rect x="171.17" y="134.28" width="1.6" height="1.6" fill="#27808e"/>
<rect x="171.27" y="134.16" width="1.6" height="1.6" fill="#27808e"/>
<rect x="173.16" y="134.08" width="1.6" height="1.6" fill="#26818d"/>
<rect x="176.33" y="131.75" width="1.6" height="1.6" fill="#26818d"/>
<rect x="176.60" y="131.55" width="1.6" height="1.6" fill="#26818d"/>
<rect x="181.36" y="121.46" width="1.6" height="1.6" fill="#26818d"/>
<rect x="186.98" y="116.60" width="1.6" height="1.6" fill="#26828d"/>
<rect x="191.53" y="115.38" width="1.6" height="1.6" fill="#26838d"/>
<rect x="189.71" y="115.23" width="1.6" height="1.6" fill="#26838d"/>
<rect x="186.97" y="123.40" width="1.6" height="1.6" fill="#26838d"/>
<rect x="174.15" y="130.64" width="1.6" height="1.6" fill="#26838d"/>
<rect x="177.03" y="126.88" width="1.6" height="1.6" fill="#25838d"/>
<rect x="191.72" y="115.83" width="1.6" height="1.6" fill="#25848d"/>
<rect x="184.94" y="125.37" width="1.6" height="1.6" fill="#25848d"/>
<rect x="172.91" y="134.22" width="1.6" height="1.6" fill="#25848d"/>
<rect x="190.47" y="119.35" width="1.6" height="1.6" fill="#25848d"/>
<rect x="191.41" y="117.56" width="1.6" height="1.6" fill="#25858d"/>
<rect x="172.80" y="132.40" width="1.6" height="1.6" fill="#25858d"/>
<rect x="185.30" y="118.12" width="1.6" height="1.6" fill="#25868d"/>
<rect x="177.81" y="130.59" width="1.6" height="1.6" fill="#24868d"/>
<rect x="183.22" y="119.86" width="1.6" height="1.6" fill="#24868d"/>
<rect x="171.67" y="133.85" width="1.6" height="1.6" fill="#24878d"/>
<rect x="173.80" y="131.20" width="1.6" height="1.6" fill="#24878d"/>
<rect x="177.35" y="130.90" width="1.6" height="1.6" fill="#24888d"/>
<rect x="183.56" y="126.40" width="1.6" height="1.6" fill="#23898d"/>
<rect x="184.53" y="118.95" width="1.6" height="1.6" fill="#238a8d"/>
<rect x="171.06" y="134.70" width="1.6" height="1.6" fill="#238a8d"/>
<rect x="171.06" y="134.71" width="1.6" height="1.6" fill="#238a8d"/>
<rect x="176.89" y="127.24" width="1.6" height="1.6" fill="#238a8d"/>
<rect x="186.36" y="123.78" width="1.6" height="1.6" fill="#238a8d"/>
<rect x="175.18" y="132.39" width="1.6" height="1.6" fill="#238b8d"/>
<rect x="187.86" y="116.36" width="1.6" height="1.6" fill="#238b8d"/>
<rect x="175.59" y="132.09" width="1.6" height="1.6" fill="#238b8d"/>
<rect x="191.11" y="116.17" width="1.6" height="1.6" fill="#238c8d"/>
<rect x="181.27" y="128.02" width="1.6" height="1.6" fill="#228c8d"/>
<rect x="172.81" y="132.59" width="1.6" height="1.6" fill="#228d8d"/>
<rect x="171.90" y="134.69" width="1.6" height="1.6" fill="#228e8d"/>
<rect x="171.32" y="134.61" width="1.6" height="1.6" fill="#228e8d"/>
<rect x="184.23" y="119.30" width="1.6" height="1.6" fill="#228e8d"/>
<rect x="190.95" y="116.36" width="1.6" height="1.6" fill="#228e8d"/>
<rect x="171.69" y="134.11" width="1.6" height="1.6" fill="#228e8d"/>
<rect x="170.92" y="135.06" width="1.6" height="1.6" fill="#228f8d"/>
<rect x="181.70" y="121.59" width="1.6" height="1.6" fill="#218f8d"/>
<rect x="174.36" y="130.66" width="1.6" height="1.6" fill="#218f8d"/>
<rect x="177.78" y="130.45" width="1.6" height="1.6" fill="#21908d"/>
<rect x="171.48" y="134.83" width="1.6" height="1.6" fill="#21908d"/>
<rect x="184.92" y="118.79" width="1.6" height="1.6" fill="#21908d"/>
<rect x="182.12" y="121.20" width="1.6" height="1.6" fill="#21908d"/>
<rect x="190.81" y="117.78" width="1.6" height="1.6" fill="#21908d"/>
<rect x="189.24" y="116.01" width="1.6" height="1.6" fill="#21908d"/>
<rect x="186.48" y="117.47" width="1.6" height="1.6" fill="#21908d"/>
<rect x="186.63" y="117.36" width="1.6" height="1.6" fill="#21908d"/>
<rect x="176.03" y="131.68" width="1.6" height="1.6" fill="#21908d"/>
<rect x="183.88" y="119.66" width="1.6" height="1.6" fill="#21918c"/>
<rect x="175.82" y="131.81" width="1.6" height="1.6" fill="#21918c"/>
<rect x="187.39" y="116.89" width="1.6" height="1.6" fill="#21918c"/>
<rect x="175.79" y="131.82" width="1.6" height="1.6" fill="#21928c"/>
<rect x="189.19" y="116.12" width="1.6" height="1.6" fill="#21928c"/>
<rect x="190.77" y="117.43" width="1.6" height="1.6" fill="#21928c"/>
<rect x="172.67" y="134.04" width="1.6" height="1.6" fill="#21928c"/>
<rect x="188.42" y="116.37" width="1.6" height="1.6" fill="#21928c"/>
<rect x="171.81" y="134.32" width="1.6" height="1.6" fill="#22938c"/>
<rect x="171.85" y="134.20" width="1.6" height="1.6" fill="#22938c"/>
<rect x="190.24" y="118.77" width="1.6" height="1.6" fill="#22938c"/>
<rect x="175.68" y="131.87" width="1.6" height="1.6" fill="#22938c"/>
<rect x="190.49" y="116.54" width="1.6" height="1.6" fill="#22938c"/>
<rect x="189.83" y="119.40" width="1.6" height="1.6" fill="#22948b"/>
<rect x="172.19" y="134.20" width="1.6" height="1.6" fill="#22948b"/>
<rect x="186.62" y="123.20" width="1.6" height="1.6" fill="#22948b"/>
<rect x="190.38" y="116.60" width="1.6" height="1.6" fill="#22958b"/>
<rect x="175.96" y="131.64" width="1.6" height="1.6" fill="#22958b"/>
<rect x="187.74" y="121.83" width="1.6" height="1.6" fill="#22958b"/>
<rect x="180.21" y="128.59" width="1.6" height="1.6" fill="#22958b"/>
<rect x="190.10" y="118.85" width="1.6" height="1.6" fill="#22958b"/>
<rect x="174.01" y="131.33" width="1.6" height="1.6" fill="#22968b"/>
<rect x="188.61" y="120.85" width="1.6" height="1.6" fill="#22968a"/>
<rect x="173.42" y="133.38" width="1.6" height="1.6" fill="#22968a"/>
<rect x="177.08" y="130.79" width="1.6" height="1.6" fill="#22978a"/>
<rect x="172.62" y="133.28" width="1.6" height="1.6" fill="#23978a"/>
<rect x="173.16" y="132.51" width="1.6" height="1.6" fill="#23988a"/>
<rect x="190.33" y="117.97" width="1.6" height="1.6" fill="#23988a"/>
<rect x="172.76" y="133.74" width="1.6" height="1.6" fill="#23988a"/>
<rect x="173.35" y="133.37" width="1.6" height="1.6" fill="#23988a"/>
<rect x="172.79" y="133.68" width="1.6" height="1.6" fill="#23988a"/>
<rect x="184.28" y="125.36" width="1.6" height="1.6" fill="#239889"/>
<rect x="173.09" y="133.50" width="1.6" height="1.6" fill="#239989"/>
<rect x="180.63" y="122.97" width="1.6" height="1.6" fill="#239989"/>
<rect x="173.66" y="133.11" width="1.6" height="1.6" fill="#239a89"/>
<rect x="174.18" y="131.25" width="1.6" height="1.6" fill="#239b89"/>
<rect x="184.86" y="119.19" width="1.6" height="1.6" fill="#239b88"/>
<rect x="181.54" y="127.46" width="1.6" height="1.6" fill="#239b88"/>
<rect x="174.24" y="132.66" width="1.6" height="1.6" fill="#239b88"/>
<rect x="180.77" y="128.04" width="1.6" height="1.6" fill="#239c88"/>
<rect x="190.11" y="117.53" width="1.6" height="1.6" fill="#239c88"/>
<rect x="173.80" y="131.85" width="1.6" height="1.6" fill="#249c88"/>
<rect x="178.07" y="126.22" width="1.6" height="1.6" fill="#249c88"/>
<rect x="189.27" y="116.77" width="1.6" height="1.6" fill="#249d88"/>
<rect x="181.54" y="127.43" width="1.6" height="1.6" fill="#249d88"/>
<rect x="190.05" y="117.74" width="1.6" height="1.6" fill="#249d88"/>
<rect x="174.90" y="130.38" width="1.6" height="1.6" fill="#249e87"/>
<rect x="173.90" y="131.83" width="1.6" height="1.6" fill="#249f87"/>
<rect x="176.81" y="127.90" width="1.6" height="1.6" fill="#249f87"/>
<rect x="178.86" y="129.35" width="1.6" height="1.6" fill="#249f87"/>
<rect x="173.40" y="132.65" width="1.6" height="1.6" fill="#249f87"/>
<rect x="174.16" y="131.48" width="1.6" height="1.6" fill="#24a086"/>
<rect x="173.65" y="132.29" width="1.6" height="1.6" fill="#24a086"/>
<rect x="178.49" y="125.80" width="1.6" height="1.6" fill="#24a186"/>
<rect x="183.24" y="120.64" width="1.6" height="1.6" fill="#25a186"/>
<rect x="182.05" y="126.93" width="1.6" height="1.6" fill="#25a286"/>
<rect x="174.82" y="132.08" width="1.6" height="1.6" fill="#25a285"/>
<rect x="180.69" y="127.96" width="1.6" height="1.6" fill="#25a285"/>
<rect x="183.00" y="120.92" width="1.6" height="1.6" fill="#25a385"/>
<rect x="179.85" y="124.21" width="1.6" height="1.6" fill="#25a385"/>
<rect x="175.60" y="129.61" width="1.6" height="1.6" fill="#25a485"/>
<rect x="180.31" y="123.69" width="1.6" height="1.6" fill="#25a485"/>
<rect x="174.25" y="132.28" width="1.6" height="1.6" fill="#25a485"/>
<rect x="174.13" y="131.80" width="1.6" height="1.6" fill="#25a584"/>
<rect x="178.41" y="126.03" width="1.6" height="1.6" fill="#25a684"/>
<rect x="187.67" y="117.59" width="1.6" height="1.6" fill="#26a684"/>
<rect x="177.01" y="127.84" width="1.6" height="1.6" fill="#26a784"/>
<rect x="174.29" y="131.69" width="1.6" height="1.6" fill="#26a783"/>
<rect x="175.74" y="131.38" width="1.6" height="1.6" fill="#26a783"/>
<rect x="175.00" y="131.82" width="1.6" height="1.6" fill="#26a783"/>
<rect x="175.93" y="131.23" width="1.6" height="1.6" fill="#26a883"/>
<rect x="189.15" y="117.75" width="1.6" height="1.6" fill="#26a983"/>
<rect x="175.81" y="131.28" width="1.6" height="1.6" fill="#26a983"/>
<rect x="187.63" y="121.27" width="1.6" height="1.6" fill="#26a983"/>
<rect x="186.27" y="122.93" width="1.6" height="1.6" fill="#26a982"/>
<rect x="174.67" y="131.18" width="1.6" height="1.6" fill="#26aa82"/>
<rect x="185.09" y="124.07" width="1.6" height="1.6" fill="#27ab82"/>
<rect x="176.31" y="128.86" width="1.6" height="1.6" fill="#27ab82"/>
<rect x="175.26" y="131.55" width="1.6" height="1.6" fill="#27ab82"/>
<rect x="176.32" y="128.87" width="1.6" height="1.6" fill="#27ab82"/>
<rect x="182.73" y="126.18" width="1.6" height="1.6" fill="#27ad81"/>
<rect x="174.93" y="130.91" width="1.6" height="1.6" fill="#27ad81"/>
<rect x="176.44" y="130.77" width="1.6" height="1.6" fill="#27ad81"/>
<rect x="188.48" y="119.96" width="1.6" height="1.6" fill="#27ad81"/>
<rect x="187.47" y="117.98" width="1.6" height="1.6" fill="#27ad81"/>
<rect x="188.94" y="118.89" width="1.6" height="1.6" fill="#28ae80"/>
<rect x="187.41" y="118.02" width="1.6" height="1.6" fill="#28ae80"/>
<rect x="188.52" y="119.84" width="1.6" height="1.6" fill="#29ae80"/>
<rect x="174.93" y="131.02" width="1.6" height="1.6" fill="#2aaf7f"/>
<rect x="176.25" y="130.85" width="1.6" height="1.6" fill="#2baf7f"/>
<rect x="175.11" y="130.75" width="1.6" height="1.6" fill="#2caf7e"/>
<rect x="187.08" y="121.73" width="1.6" height="1.6" fill="#2caf7e"/>
<rect x="186.31" y="118.68" width="1.6" height="1.6" fill="#2cb07e"/>
<rect x="176.35" y="130.73" width="1.6" height="1.6" fill="#2fb17d"/>
<rect x="188.12" y="118.04" width="1.6" height="1.6" fill="#30b17c"/>
<rect x="188.54" y="119.54" width="1.6" height="1.6" fill="#30b17c"/>
<rect x="180.40" y="123.92" width="1.6" height="1.6" fill="#30b17c"/>
<rect x="184.76" y="124.23" width="1.6" height="1.6" fill="#30b27c"/>
<rect x="180.57" y="123.73" width="1.6" height="1.6" fill="#30b27c"/>
<rect x="181.08" y="123.12" width="1.6" height="1.6" fill="#30b27c"/>
<rect x="186.33" y="122.61" width="1.6" height="1.6" fill="#31b27c"/>
<rect x="188.05" y="120.37" width="1.6" height="1.6" fill="#31b27b"/>
<rect x="182.95" y="125.90" width="1.6" height="1.6" fill="#31b27b"/>
<rect x="176.46" y="128.89" width="1.6" height="1.6" fill="#32b37b"/>
<rect x="175.17" y="131.08" width="1.6" height="1.6" fill="#33b37a"/>
<rect x="182.12" y="122.17" width="1.6" height="1.6" fill="#34b37a"/>
<rect x="179.43" y="128.55" width="1.6" height="1.6" fill="#34b47a"/>
<rect x="187.20" y="118.37" width="1.6" height="1.6" fill="#35b479"/>
<rect x="183.23" y="125.63" width="1.6" height="1.6" fill="#36b579"/>
<rect x="184.28" y="120.30" width="1.6" height="1.6" fill="#38b677"/>
<rect x="184.13" y="124.75" width="1.6" height="1.6" fill="#39b677"/>
<rect x="186.54" y="122.20" width="1.6" height="1.6" fill="#3ab776"/>
<rect x="179.50" y="125.12" width="1.6" height="1.6" fill="#3bb776"/>
<rect x="180.47" y="123.98" width="1.6" height="1.6" fill="#3bb776"/>
<rect x="185.33" y="123.51" width="1.6" height="1.6" fill="#3cb875"/>
<rect x="180.73" y="123.72" width="1.6" height="1.6" fill="#40ba73"/>
<rect x="175.90" y="130.11" width="1.6" height="1.6" fill="#42bb72"/>
<rect x="188.10" y="119.48" width="1.6" height="1.6" fill="#43bb71"/>
<rect x="188.09" y="118.96" width="1.6" height="1.6" fill="#43bb71"/>
<rect x="181.36" y="123.06" width="1.6" height="1.6" fill="#43bb71"/>
<rect x="175.87" y="130.38" width="1.6" height="1.6" fill="#44bc71"/>
<rect x="186.70" y="118.93" width="1.6" height="1.6" fill="#46bd6f"/>
<rect x="186.98" y="121.36" width="1.6" height="1.6" fill="#47bd6f"/>
<rect x="180.56" y="124.05" width="1.6" height="1.6" fill="#49bf6e"/>
<rect x="180.45" y="127.60" width="1.6" height="1.6" fill="#49bf6d"/>
<rect x="186.94" y="118.94" width="1.6" height="1.6" fill="#4abf6d"/>
<rect x="187.82" y="119.65" width="1.6" height="1.6" fill="#4dc06c"/>
<rect x="184.27" y="124.38" width="1.6" height="1.6" fill="#4dc06c"/>
<rect x="179.17" y="128.49" width="1.6" height="1.6" fill="#4dc06b"/>
<rect x="177.43" y="128.00" width="1.6" height="1.6" fill="#4dc16b"/>
<rect x="176.34" y="129.70" width="1.6" height="1.6" fill="#4ec16b"/>
<rect x="179.50" y="128.24" width="1.6" height="1.6" fill="#4ec16b"/>
<rect x="187.71" y="119.70" width="1.6" height="1.6" fill="#50c26a"/>
<rect x="176.40" y="129.84" width="1.6" height="1.6" fill="#51c269"/>
<rect x="178.12" y="129.11" width="1.6" height="1.6" fill="#54c467"/>
<rect x="187.48" y="120.05" width="1.6" height="1.6" fill="#56c567"/>
<rect x="187.44" y="120.15" width="1.6" height="1.6" fill="#56c566"/>
<rect x="178.05" y="129.10" width="1.6" height="1.6" fill="#59c665"/>
<rect x="177.23" y="128.56" width="1.6" height="1.6" fill="#5bc863"/>
<rect x="182.52" y="125.81" width="1.6" height="1.6" fill="#5bc863"/>
<rect x="181.58" y="123.13" width="1.6" height="1.6" fill="#5dc863"/>
<rect x="182.03" y="126.17" width="1.6" height="1.6" fill="#5ec862"/>
<rect x="177.00" y="129.06" width="1.6" height="1.6" fill="#5fc961"/>
<rect x="181.44" y="123.28" width="1.6" height="1.6" fill="#5fc961"/>
<rect x="177.20" y="129.38" width="1.6" height="1.6" fill="#61c960"/>
<rect x="179.96" y="127.72" width="1.6" height="1.6" fill="#63ca5f"/>
<rect x="180.55" y="127.28" width="1.6" height="1.6" fill="#63ca5f"/>
<rect x="182.89" y="122.00" width="1.6" height="1.6" fill="#64ca5e"/>
<rect x="177.33" y="129.09" width="1.6" height="1.6" fill="#6bcc5a"/>
<rect x="177.31" y="128.88" width="1.6" height="1.6" fill="#6bcc5a"/>
<rect x="185.45" y="122.79" width="1.6" height="1.6" fill="#6ecd58"/>
<rect x="182.08" y="122.82" width="1.6" height="1.6" fill="#6fcd57"/>
<rect x="177.75" y="128.12" width="1.6" height="1.6" fill="#70cd56"/>
<rect x="186.69" y="119.93" width="1.6" height="1.6" fill="#71cd56"/>
<rect x="186.81" y="120.06" width="1.6" height="1.6" fill="#71cd56"/>
<rect x="178.14" y="127.56" width="1.6" height="1.6" fill="#73ce54"/>
<rect x="177.85" y="128.78" width="1.6" height="1.6" fill="#76cf53"/>
<rect x="177.82" y="128.14" width="1.6" height="1.6" fill="#77cf52"/>
<rect x="181.37" y="126.50" width="1.6" height="1.6" fill="#77cf52"/>
<rect x="181.97" y="126.03" width="1.6" height="1.6" fill="#77cf52"/>
<rect x="178.40" y="127.25" width="1.6" height="1.6" fill="#78cf52"/>
<rect x="182.94" y="122.13" width="1.6" height="1.6" fill="#79cf51"/>
<rect x="186.11" y="120.09" width="1.6" height="1.6" fill="#7ad050"/>
<rect x="177.81" y="128.66" width="1.6" height="1.6" fill="#7ad050"/>
<rect x="186.62" y="120.38" width="1.6" height="1.6" fill="#7bd04f"/>
<rect x="178.93" y="126.57" width="1.6" height="1.6" fill="#7cd04f"/>
<rect x="178.68" y="126.99" width="1.6" height="1.6" fill="#82d24b"/>
<rect x="184.58" y="120.90" width="1.6" height="1.6" fill="#84d24a"/>
<rect x="186.02" y="120.35" width="1.6" height="1.6" fill="#86d348"/>
<rect x="182.79" y="125.27" width="1.6" height="1.6" fill="#87d348"/>
<rect x="185.37" y="122.55" width="1.6" height="1.6" fill="#8bd445"/>
<rect x="186.24" y="120.90" width="1.6" height="1.6" fill="#8cd445"/>
<rect x="180.72" y="124.53" width="1.6" height="1.6" fill="#8cd445"/>
<rect x="186.18" y="120.58" width="1.6" height="1.6" fill="#8cd445"/>
<rect x="180.72" y="126.80" width="1.6" height="1.6" fill="#8fd543"/>
<rect x="184.46" y="121.09" width="1.6" height="1.6" fill="#90d542"/>
<rect x="178.69" y="127.22" width="1.6" height="1.6" fill="#90d542"/>
<rect x="185.74" y="120.57" width="1.6" height="1.6" fill="#90d542"/>
<rect x="184.28" y="123.66" width="1.6" height="1.6" fill="#93d640"/>
<rect x="184.10" y="123.84" width="1.6" height="1.6" fill="#94d640"/>
<rect x="181.30" y="126.30" width="1.6" height="1.6" fill="#95d73f"/>
<rect x="179.24" y="127.71" width="1.6" height="1.6" fill="#95d73f"/>
<rect x="179.20" y="126.53" width="1.6" height="1.6" fill="#96d73e"/>
<rect x="181.50" y="126.13" width="1.6" height="1.6" fill="#97d73e"/>
<rect x="184.02" y="121.53" width="1.6" height="1.6" fill="#99d83d"/>
<rect x="185.47" y="120.83" width="1.6" height="1.6" fill="#9cd83b"/>
<rect x="181.27" y="124.02" width="1.6" height="1.6" fill="#9cd83b"/>
<rect x="185.48" y="122.17" width="1.6" height="1.6" fill="#9dd93a"/>
<rect x="178.84" y="127.44" width="1.6" height="1.6" fill="#9fd939"/>
<rect x="184.00" y="121.67" width="1.6" height="1.6" fill="#a4da36"/>
<rect x="182.33" y="123.09" width="1.6" height="1.6" fill="#a7db34"/>
<rect x="182.55" y="122.92" width="1.6" height="1.6" fill="#a8dc33"/>
<rect x="181.76" y="123.64" width="1.6" height="1.6" fill="#aedc31"/>
<rect x="185.27" y="121.23" width="1.6" height="1.6" fill="#afdd31"/>
<rect x="179.48" y="126.63" width="1.6" height="1.6" fill="#b1dd31"/>
<rect x="184.53" y="121.62" width="1.6" height="1.6" fill="#bcde2f"/>
<rect x="179.88" y="126.70" width="1.6" height="1.6" fill="#bedf2f"/>
<rect x="179.95" y="126.69" width="1.6" height="1.6" fill="#bedf2f"/>
<rect x="180.21" y="126.57" width="1.6" height="1.6" fill="#c0df2f"/>
<rect x="181.49" y="125.74" width="1.6" height="1.6" fill="#c3df2e"/>
<rect x="183.93" y="122.17" width="1.6" height="1.6" fill="#c6e02e"/>
<rect x="184.09" y="123.21" width="1.6" height="1.6" fill="#c8e02d"/>
<rect x="183.73" y="122.37" width="1.6" height="1.6" fill="#cbe02d"/>
<rect x="180.47" y="125.75" width="1.6" height="1.6" fill="#cde12c"/>
<rect x="180.69" y="125.41" width="1.6" height="1.6" fill="#cee12c"/>
<rect x="181.25" y="124.62" width="1.6" height="1.6" fill="#d0e12c"/>
<rect x="183.29" y="124.04" width="1.6" height="1.6" fill="#d2e12c"/>
<rect x="181.41" y="125.60" width="1.6" height="1.6" fill="#d4e22b"/>
<rect x="180.72" y="125.72" width="1.6" height="1.6" fill="#d6e22b"/>
<rect x="183.80" y="123.27" width="1.6" height="1.6" fill="#d7e22b"/>
<rect x="180.85" y="125.42" width="1.6" height="1.6" fill="#d8e22b"/>
<rect x="182.45" y="124.86" width="1.6" height="1.6" fill="#d9e22b"/>
<rect x="181.47" y="125.44" width="1.6" height="1.6" fill="#dce32a"/>
<rect x="180.97" y="125.54" width="1.6" height="1.6" fill="#dce32a"/>
<rect x="180.96" y="125.50" width="1.6" height="1.6" fill="#dce32a"/>
<rect x="181.10" y="125.28" width="1.6" height="1.6" fill="#e0e32a"/>
<rect x="181.44" y="124.65" width="1.6" height="1.6" fill="#e0e32a"/>
<rect x="183.48" y="123.42" width="1.6" height="1.6" fill="#e2e329"/>
<rect x="182.02" y="123.97" width="1.6" height="1.6" fill="#e7e428"/>
<rect x="181.85" y="124.56" width="1.6" height="1.6" fill="#f3e627"/>
<rect x="182.74" y="123.91" width="1.6" height="1.6" fill="#f3e626"/>
<line x1="172.30" y1="135.50" x2="282.05" y2="29.62" stroke="#333" stroke-width="1.2" stroke-dasharray="2.8 1.8"/>
<text x="226.10" y="156.60" font-size="8.8" text-anchor="middle" textLength="133.00" lengthAdjust="spacingAndGlyphs">-Log10(TPCA modulation signature)</text>
<text x="226.10" y="165.50" font-size="8.8" text-anchor="middle" textLength="98.00" lengthAdjust="spacingAndGlyphs">Absolute Distance Change</text>
<text x="143.00" y="83.40" font-size="8.8" text-anchor="middle" textLength="133.00" lengthAdjust="spacingAndGlyphs" transform="rotate(-90 143.00 83.40)">-Log10(TPCA modulation signature)</text>
<text x="151.50" y="83.40" font-size="8.8" text-anchor="middle" textLength="96.00" lengthAdjust="spacingAndGlyphs" transform="rotate(-90 151.50 83.40)">Relative Distance Change</text>
<text x="280.60" y="131.00" font-size="8.8" text-anchor="end" textLength="76.50" lengthAdjust="spacingAndGlyphs">Spearman's r &gt; 0.95</text>
<rect x="396.30" y="28.50" width="113.90" height="110.30" fill="none" stroke="#7a7a7a" stroke-width="0.8"/>
<line x1="398.30" y1="138.80" x2="398.30" y2="141.80" stroke="#666" stroke-width="0.9" />
<text x="398.30" y="148.40" font-size="8.91" text-anchor="middle" textLength="10.50" lengthAdjust="spacingAndGlyphs">0.0</text>
<line x1="393.30" y1="136.20" x2="396.30" y2="136.20" stroke="#666" stroke-width="0.9" />
<text x="392.50" y="138.80" font-size="8.91" text-anchor="end" textLength="10.50" lengthAdjust="spacingAndGlyphs">0.0</text>
<line x1="411.95" y1="138.80" x2="411.95" y2="141.80" stroke="#666" stroke-width="0.9" />
<text x="411.95" y="148.40" font-size="8.91" text-anchor="middle" textLength="10.50" lengthAdjust="spacingAndGlyphs">0.5</text>
<line x1="393.30" y1="122.97" x2="396.30" y2="122.97" stroke="#666" stroke-width="0.9" />
<text x="392.50" y="125.57" font-size="8.91" text-anchor="end" textLength="10.50" lengthAdjust="spacingAndGlyphs">0.5</text>
<line x1="425.60" y1="138.80" x2="425.60" y2="141.80" stroke="#666" stroke-width="0.9" />
<text x="425.60" y="148.40" font-size="8.91" text-anchor="middle" textLength="10.50" lengthAdjust="spacingAndGlyphs">1.0</text>
<line x1="393.30" y1="109.75" x2="396.30" y2="109.75" stroke="#666" stroke-width="0.9" />
<text x="392.50" y="112.35" font-size="8.91" text-anchor="end" textLength="10.50" lengthAdjust="spacingAndGlyphs">1.0</text>
<line x1="439.25" y1="138.80" x2="439.25" y2="141.80" stroke="#666" stroke-width="0.9" />
<text x="439.25" y="148.40" font-size="8.91" text-anchor="middle" textLength="10.50" lengthAdjust="spacingAndGlyphs">1.5</text>
<line x1="393.30" y1="96.52" x2="396.30" y2="96.52" stroke="#666" stroke-width="0.9" />
<text x="392.50" y="99.12" font-size="8.91" text-anchor="end" textLength="10.50" lengthAdjust="spacingAndGlyphs">1.5</text>
<line x1="452.90" y1="138.80" x2="452.90" y2="141.80" stroke="#666" stroke-width="0.9" />
<text x="452.90" y="148.40" font-size="8.91" text-anchor="middle" textLength="10.50" lengthAdjust="spacingAndGlyphs">2.0</text>
<line x1="393.30" y1="83.30" x2="396.30" y2="83.30" stroke="#666" stroke-width="0.9" />
<text x="392.50" y="85.90" font-size="8.91" text-anchor="end" textLength="10.50" lengthAdjust="spacingAndGlyphs">2.0</text>
<line x1="466.55" y1="138.80" x2="466.55" y2="141.80" stroke="#666" stroke-width="0.9" />
<text x="466.55" y="148.40" font-size="8.91" text-anchor="middle" textLength="10.50" lengthAdjust="spacingAndGlyphs">2.5</text>
<line x1="393.30" y1="70.07" x2="396.30" y2="70.07" stroke="#666" stroke-width="0.9" />
<text x="392.50" y="72.67" font-size="8.91" text-anchor="end" textLength="10.50" lengthAdjust="spacingAndGlyphs">2.5</text>
<line x1="480.20" y1="138.80" x2="480.20" y2="141.80" stroke="#666" stroke-width="0.9" />
<text x="480.20" y="148.40" font-size="8.91" text-anchor="middle" textLength="10.50" lengthAdjust="spacingAndGlyphs">3.0</text>
<line x1="393.30" y1="56.85" x2="396.30" y2="56.85" stroke="#666" stroke-width="0.9" />
<text x="392.50" y="59.45" font-size="8.91" text-anchor="end" textLength="10.50" lengthAdjust="spacingAndGlyphs">3.0</text>
<line x1="493.85" y1="138.80" x2="493.85" y2="141.80" stroke="#666" stroke-width="0.9" />
<text x="493.85" y="148.40" font-size="8.91" text-anchor="middle" textLength="10.50" lengthAdjust="spacingAndGlyphs">3.5</text>
<line x1="393.30" y1="43.62" x2="396.30" y2="43.62" stroke="#666" stroke-width="0.9" />
<text x="392.50" y="46.22" font-size="8.91" text-anchor="end" textLength="10.50" lengthAdjust="spacingAndGlyphs">3.5</text>
<line x1="507.50" y1="138.80" x2="507.50" y2="141.80" stroke="#666" stroke-width="0.9" />
<text x="507.50" y="148.40" font-size="8.91" text-anchor="middle" textLength="10.50" lengthAdjust="spacingAndGlyphs">4.0</text>
<line x1="393.30" y1="30.40" x2="396.30" y2="30.40" stroke="#666" stroke-width="0.9" />
<text x="392.50" y="33.00" font-size="8.91" text-anchor="end" textLength="10.50" lengthAdjust="spacingAndGlyphs">4.0</text>
<text x="454.10" y="25.80" font-size="9.8" text-anchor="middle" textLength="88.00" lengthAdjust="spacingAndGlyphs">4 Temperature Points</text>
<rect x="451.60" y="37.70" width="1.7" height="1.7" fill="#432a6c"/>
<rect x="458.20" y="42.50" width="1.7" height="1.7" fill="#432a6c"/>
<rect x="453.10" y="45.80" width="1.7" height="1.7" fill="#432a6c"/>
<rect x="442.40" y="54.80" width="1.7" height="1.7" fill="#432a6c"/>
<rect x="442.90" y="57.30" width="1.7" height="1.7" fill="#432a6c"/>
<rect x="444.50" y="57.30" width="1.7" height="1.7" fill="#432a6c"/>
<rect x="448.00" y="54.60" width="1.7" height="1.7" fill="#432a6c"/>
<rect x="448.50" y="54.00" width="1.7" height="1.7" fill="#432a6c"/>
<rect x="449.80" y="59.40" width="1.7" height="1.7" fill="#432a6c"/>
<rect x="453.30" y="59.40" width="1.7" height="1.7" fill="#432a6c"/>
<rect x="447.00" y="62.50" width="1.7" height="1.7" fill="#432a6c"/>
<rect x="431.00" y="62.50" width="1.7" height="1.7" fill="#432a6c"/>
<rect x="436.60" y="67.30" width="1.7" height="1.7" fill="#432a6c"/>
<rect x="441.40" y="68.60" width="1.7" height="1.7" fill="#432a6c"/>
<rect x="444.50" y="67.80" width="1.7" height="1.7" fill="#432a6c"/>
<rect x="414.30" y="70.80" width="1.7" height="1.7" fill="#432a6c"/>
<rect x="429.60" y="70.80" width="1.7" height="1.7" fill="#432a6c"/>
<rect x="441.70" y="68.80" width="1.7" height="1.7" fill="#432a6c"/>
<rect x="441.90" y="71.60" width="1.7" height="1.7" fill="#432a6c"/>
<rect x="445.50" y="71.10" width="1.7" height="1.7" fill="#432a6c"/>
<rect x="451.90" y="70.00" width="1.7" height="1.7" fill="#432a6c"/>
<rect x="434.20" y="73.90" width="1.7" height="1.7" fill="#432a6c"/>
<rect x="436.60" y="74.40" width="1.7" height="1.7" fill="#432a6c"/>
<rect x="414.80" y="77.00" width="1.7" height="1.7" fill="#432a6c"/>
<rect x="412.80" y="79.00" width="1.7" height="1.7" fill="#432a6c"/>
<rect x="416.90" y="79.50" width="1.7" height="1.7" fill="#432a6c"/>
<rect x="423.00" y="77.00" width="1.7" height="1.7" fill="#432a6c"/>
<rect x="423.50" y="79.50" width="1.7" height="1.7" fill="#432a6c"/>
<rect x="424.50" y="82.60" width="1.7" height="1.7" fill="#432a6c"/>
<rect x="419.90" y="80.50" width="1.7" height="1.7" fill="#432a6c"/>
<rect x="417.90" y="82.60" width="1.7" height="1.7" fill="#432a6c"/>
<rect x="427.10" y="81.60" width="1.7" height="1.7" fill="#432a6c"/>
<rect x="429.60" y="79.30" width="1.7" height="1.7" fill="#432a6c"/>
<rect x="435.30" y="77.50" width="1.7" height="1.7" fill="#432a6c"/>
<rect x="438.80" y="78.50" width="1.7" height="1.7" fill="#432a6c"/>
<rect x="435.30" y="80.60" width="1.7" height="1.7" fill="#432a6c"/>
<rect x="436.30" y="82.10" width="1.7" height="1.7" fill="#432a6c"/>
<rect x="441.40" y="81.10" width="1.7" height="1.7" fill="#432a6c"/>
<rect x="417.90" y="86.20" width="1.7" height="1.7" fill="#432a6c"/>
<rect x="419.40" y="86.20" width="1.7" height="1.7" fill="#432a6c"/>
<rect x="423.00" y="86.70" width="1.7" height="1.7" fill="#432a6c"/>
<rect x="426.60" y="85.10" width="1.7" height="1.7" fill="#432a6c"/>
<rect x="432.20" y="85.70" width="1.7" height="1.7" fill="#432a6c"/>
<rect x="435.30" y="84.60" width="1.7" height="1.7" fill="#432a6c"/>
<rect x="436.30" y="86.20" width="1.7" height="1.7" fill="#432a6c"/>
<rect x="439.90" y="84.10" width="1.7" height="1.7" fill="#432a6c"/>
<rect x="414.80" y="89.70" width="1.7" height="1.7" fill="#432a6c"/>
<rect x="418.40" y="90.30" width="1.7" height="1.7" fill="#432a6c"/>
<rect x="424.50" y="89.70" width="1.7" height="1.7" fill="#432a6c"/>
<rect x="427.10" y="88.70" width="1.7" height="1.7" fill="#432a6c"/>
<rect x="432.70" y="90.30" width="1.7" height="1.7" fill="#432a6c"/>
<rect x="434.20" y="91.30" width="1.7" height="1.7" fill="#432a6c"/>
<rect x="437.30" y="89.20" width="1.7" height="1.7" fill="#432a6c"/>
<rect x="453.70" y="89.70" width="1.7" height="1.7" fill="#432a6c"/>
<rect x="441.40" y="91.30" width="1.7" height="1.7" fill="#432a6c"/>
<rect x="413.30" y="93.30" width="1.7" height="1.7" fill="#432a6c"/>
<rect x="417.40" y="93.80" width="1.7" height="1.7" fill="#432a6c"/>
<rect x="421.50" y="91.80" width="1.7" height="1.7" fill="#432a6c"/>
<rect x="425.50" y="94.30" width="1.7" height="1.7" fill="#432a6c"/>
<rect x="428.10" y="92.80" width="1.7" height="1.7" fill="#432a6c"/>
<rect x="430.70" y="94.30" width="1.7" height="1.7" fill="#432a6c"/>
<rect x="432.70" y="94.90" width="1.7" height="1.7" fill="#432a6c"/>
<rect x="437.80" y="93.30" width="1.7" height="1.7" fill="#432a6c"/>
<rect x="436.30" y="104.10" width="1.7" height="1.7" fill="#432a6c"/>
<rect x="436.60" y="104.40" width="1.7" height="1.7" fill="#432a6c"/>
<rect x="433.00" y="112.10" width="1.7" height="1.7" fill="#432a6c"/>
<rect x="427.40" y="116.20" width="1.7" height="1.7" fill="#432a6c"/>
<rect x="410.50" y="131.50" width="1.7" height="1.7" fill="#432a6c"/>
<rect x="415.78" y="118.45" width="1.6" height="1.6" fill="#46307a"/>
<rect x="414.26" y="122.98" width="1.6" height="1.6" fill="#46307a"/>
<rect x="420.76" y="113.26" width="1.6" height="1.6" fill="#46307a"/>
<rect x="414.66" y="121.35" width="1.6" height="1.6" fill="#46307a"/>
<rect x="419.30" y="121.60" width="1.6" height="1.6" fill="#46307a"/>
<rect x="419.26" y="108.33" width="1.6" height="1.6" fill="#46307a"/>
<rect x="413.02" y="120.13" width="1.6" height="1.6" fill="#46307a"/>
<rect x="408.71" y="122.11" width="1.6" height="1.6" fill="#46307a"/>
<rect x="415.30" y="114.15" width="1.6" height="1.6" fill="#46307a"/>
<rect x="423.87" y="109.70" width="1.6" height="1.6" fill="#46307a"/>
<rect x="416.54" y="112.85" width="1.6" height="1.6" fill="#46307a"/>
<rect x="417.15" y="123.70" width="1.6" height="1.6" fill="#46307a"/>
<rect x="415.10" y="114.39" width="1.6" height="1.6" fill="#46307a"/>
<rect x="421.11" y="110.80" width="1.6" height="1.6" fill="#46307a"/>
<rect x="414.44" y="119.27" width="1.6" height="1.6" fill="#46307a"/>
<rect x="419.44" y="108.56" width="1.6" height="1.6" fill="#46307a"/>
<rect x="425.27" y="105.82" width="1.6" height="1.6" fill="#46307a"/>
<rect x="419.55" y="119.79" width="1.6" height="1.6" fill="#46307a"/>
<rect x="414.37" y="115.73" width="1.6" height="1.6" fill="#46307a"/>
<rect x="411.38" y="124.20" width="1.6" height="1.6" fill="#46307a"/>
<rect x="413.33" y="112.37" width="1.6" height="1.6" fill="#46307a"/>
<rect x="413.56" y="111.27" width="1.6" height="1.6" fill="#46307a"/>
<rect x="423.20" y="113.32" width="1.6" height="1.6" fill="#46307a"/>
<rect x="423.45" y="114.14" width="1.6" height="1.6" fill="#46307a"/>
<rect x="418.11" y="116.88" width="1.6" height="1.6" fill="#46307a"/>
<rect x="426.42" y="109.41" width="1.6" height="1.6" fill="#46307a"/>
<rect x="425.05" y="109.01" width="1.6" height="1.6" fill="#46307a"/>
<rect x="421.98" y="108.88" width="1.6" height="1.6" fill="#46307a"/>
<rect x="410.84" y="121.47" width="1.6" height="1.6" fill="#46307a"/>
<rect x="417.79" y="118.10" width="1.6" height="1.6" fill="#46307a"/>
<rect x="410.49" y="127.04" width="1.6" height="1.6" fill="#46307a"/>
<rect x="426.79" y="107.81" width="1.6" height="1.6" fill="#46307a"/>
<rect x="417.94" y="108.58" width="1.6" height="1.6" fill="#46307a"/>
<rect x="424.42" y="110.27" width="1.6" height="1.6" fill="#46307a"/>
<rect x="414.37" y="115.35" width="1.6" height="1.6" fill="#46307a"/>
<rect x="419.41" y="113.75" width="1.6" height="1.6" fill="#46307a"/>
<rect x="417.89" y="106.62" width="1.6" height="1.6" fill="#46307a"/>
<rect x="416.61" y="112.46" width="1.6" height="1.6" fill="#46307a"/>
<rect x="428.59" y="113.82" width="1.6" height="1.6" fill="#46307a"/>
<rect x="419.48" y="109.80" width="1.6" height="1.6" fill="#46307a"/>
<rect x="424.14" y="116.38" width="1.6" height="1.6" fill="#46307a"/>
<rect x="417.58" y="110.99" width="1.6" height="1.6" fill="#46307a"/>
<rect x="422.93" y="112.15" width="1.6" height="1.6" fill="#46307a"/>
<rect x="417.59" y="110.97" width="1.6" height="1.6" fill="#46307a"/>
<rect x="423.18" y="115.21" width="1.6" height="1.6" fill="#46307a"/>
<rect x="418.09" y="111.73" width="1.6" height="1.6" fill="#46307a"/>
<rect x="416.45" y="113.11" width="1.6" height="1.6" fill="#46307a"/>
<rect x="412.20" y="125.62" width="1.6" height="1.6" fill="#46307a"/>
<rect x="410.52" y="128.28" width="1.6" height="1.6" fill="#46307a"/>
<rect x="407.13" y="122.60" width="1.6" height="1.6" fill="#46307a"/>
<rect x="419.37" y="106.56" width="1.6" height="1.6" fill="#46307a"/>
<rect x="417.18" y="114.77" width="1.6" height="1.6" fill="#46307a"/>
<rect x="426.16" y="108.58" width="1.6" height="1.6" fill="#46307a"/>
<rect x="427.11" y="110.70" width="1.6" height="1.6" fill="#46307a"/>
<rect x="413.96" y="113.38" width="1.6" height="1.6" fill="#46307a"/>
<rect x="426.88" y="106.25" width="1.6" height="1.6" fill="#46307a"/>
<rect x="418.16" y="112.19" width="1.6" height="1.6" fill="#46307a"/>
<rect x="428.34" y="114.68" width="1.6" height="1.6" fill="#46307a"/>
<rect x="416.57" y="111.27" width="1.6" height="1.6" fill="#46307a"/>
<rect x="415.06" y="113.65" width="1.6" height="1.6" fill="#46307a"/>
<rect x="410.37" y="124.57" width="1.6" height="1.6" fill="#46307a"/>
<rect x="410.89" y="110.14" width="1.6" height="1.6" fill="#46307a"/>
<rect x="420.28" y="110.26" width="1.6" height="1.6" fill="#46307a"/>
<rect x="411.14" y="122.21" width="1.6" height="1.6" fill="#46307a"/>
<rect x="411.96" y="129.18" width="1.6" height="1.6" fill="#46307a"/>
<rect x="418.42" y="107.19" width="1.6" height="1.6" fill="#46307a"/>
<rect x="414.08" y="118.25" width="1.6" height="1.6" fill="#46307a"/>
<rect x="414.67" y="117.72" width="1.6" height="1.6" fill="#46307a"/>
<rect x="423.11" y="121.91" width="1.6" height="1.6" fill="#46307a"/>
<rect x="419.05" y="108.43" width="1.6" height="1.6" fill="#46307a"/>
<rect x="421.47" y="116.91" width="1.6" height="1.6" fill="#46307a"/>
<rect x="420.49" y="110.15" width="1.6" height="1.6" fill="#46307a"/>
<rect x="423.16" y="99.70" width="1.6" height="1.6" fill="#46307a"/>
<rect x="416.56" y="105.11" width="1.6" height="1.6" fill="#46307a"/>
<rect x="418.41" y="109.15" width="1.6" height="1.6" fill="#46307a"/>
<rect x="418.28" y="116.35" width="1.6" height="1.6" fill="#46307a"/>
<rect x="424.14" y="105.30" width="1.6" height="1.6" fill="#46307a"/>
<rect x="414.80" y="127.67" width="1.6" height="1.6" fill="#46307a"/>
<rect x="423.19" y="111.46" width="1.6" height="1.6" fill="#46307a"/>
<rect x="420.90" y="116.85" width="1.6" height="1.6" fill="#46307a"/>
<rect x="432.03" y="101.28" width="1.6" height="1.6" fill="#46307a"/>
<rect x="425.45" y="102.75" width="1.6" height="1.6" fill="#46307a"/>
<rect x="411.90" y="116.28" width="1.6" height="1.6" fill="#46307a"/>
<rect x="418.32" y="114.80" width="1.6" height="1.6" fill="#46307a"/>
<rect x="412.77" y="107.36" width="1.6" height="1.6" fill="#46307a"/>
<rect x="420.55" y="117.86" width="1.6" height="1.6" fill="#46307a"/>
<rect x="416.17" y="103.56" width="1.6" height="1.6" fill="#46307a"/>
<rect x="424.82" y="89.32" width="1.6" height="1.6" fill="#46307a"/>
<rect x="415.71" y="110.26" width="1.6" height="1.6" fill="#46307a"/>
<rect x="413.62" y="116.07" width="1.6" height="1.6" fill="#46307a"/>
<rect x="417.89" y="106.06" width="1.6" height="1.6" fill="#46307a"/>
<rect x="414.08" y="102.83" width="1.6" height="1.6" fill="#46307a"/>
<rect x="422.49" y="102.00" width="1.6" height="1.6" fill="#46307a"/>
<rect x="410.75" y="113.25" width="1.6" height="1.6" fill="#46307a"/>
<rect x="416.23" y="110.44" width="1.6" height="1.6" fill="#46307a"/>
<rect x="420.49" y="106.86" width="1.6" height="1.6" fill="#46307a"/>
<rect x="410.90" y="106.71" width="1.6" height="1.6" fill="#46307a"/>
<rect x="424.05" y="108.06" width="1.6" height="1.6" fill="#46307a"/>
<rect x="412.51" y="116.44" width="1.6" height="1.6" fill="#46307a"/>
<rect x="413.58" y="109.62" width="1.6" height="1.6" fill="#46307a"/>
<rect x="409.46" y="120.33" width="1.6" height="1.6" fill="#46307a"/>
<rect x="423.61" y="100.38" width="1.6" height="1.6" fill="#46307a"/>
<rect x="419.67" y="104.15" width="1.6" height="1.6" fill="#46307a"/>
<rect x="423.26" y="103.61" width="1.6" height="1.6" fill="#46307a"/>
<rect x="414.13" y="116.81" width="1.6" height="1.6" fill="#46307a"/>
<rect x="412.90" y="121.60" width="1.6" height="1.6" fill="#46307a"/>
<rect x="417.92" y="94.31" width="1.6" height="1.6" fill="#46307a"/>
<rect x="425.55" y="93.47" width="1.6" height="1.6" fill="#46307a"/>
<rect x="427.99" y="103.51" width="1.6" height="1.6" fill="#46307a"/>
<rect x="416.01" y="114.99" width="1.6" height="1.6" fill="#46307a"/>
<rect x="413.13" y="101.44" width="1.6" height="1.6" fill="#46307a"/>
<rect x="420.23" y="104.78" width="1.6" height="1.6" fill="#46307a"/>
<rect x="413.41" y="100.69" width="1.6" height="1.6" fill="#46307a"/>
<rect x="422.86" y="107.68" width="1.6" height="1.6" fill="#46307a"/>
<rect x="415.59" y="111.45" width="1.6" height="1.6" fill="#46307a"/>
<rect x="434.89" y="92.55" width="1.6" height="1.6" fill="#46307a"/>
<rect x="415.50" y="106.96" width="1.6" height="1.6" fill="#46307a"/>
<rect x="431.08" y="104.45" width="1.6" height="1.6" fill="#46307a"/>
<rect x="412.29" y="106.71" width="1.6" height="1.6" fill="#46307a"/>
<rect x="419.92" y="97.73" width="1.6" height="1.6" fill="#46307a"/>
<rect x="421.44" y="112.53" width="1.6" height="1.6" fill="#46307a"/>
<rect x="422.96" y="99.90" width="1.6" height="1.6" fill="#46307a"/>
<rect x="417.52" y="95.20" width="1.6" height="1.6" fill="#46307a"/>
<rect x="420.91" y="109.78" width="1.6" height="1.6" fill="#46307a"/>
<rect x="412.74" y="115.84" width="1.6" height="1.6" fill="#46307a"/>
<rect x="418.40" y="110.34" width="1.6" height="1.6" fill="#46307a"/>
<rect x="427.24" y="105.57" width="1.6" height="1.6" fill="#46307a"/>
<rect x="414.99" y="102.25" width="1.6" height="1.6" fill="#46307a"/>
<rect x="420.56" y="105.60" width="1.6" height="1.6" fill="#46307a"/>
<rect x="414.92" y="117.40" width="1.6" height="1.6" fill="#46307a"/>
<rect x="411.85" y="91.55" width="1.6" height="1.6" fill="#46307a"/>
<rect x="411.86" y="117.68" width="1.6" height="1.6" fill="#46307a"/>
<rect x="425.55" y="96.37" width="1.6" height="1.6" fill="#46307a"/>
<rect x="425.76" y="96.95" width="1.6" height="1.6" fill="#46307a"/>
<rect x="417.61" y="101.69" width="1.6" height="1.6" fill="#46307a"/>
<rect x="415.92" y="106.80" width="1.6" height="1.6" fill="#46307a"/>
<rect x="426.44" y="96.95" width="1.6" height="1.6" fill="#46307a"/>
<rect x="420.94" y="104.97" width="1.6" height="1.6" fill="#46307a"/>
<rect x="426.98" y="99.44" width="1.6" height="1.6" fill="#46307a"/>
<rect x="428.23" y="100.46" width="1.6" height="1.6" fill="#46307a"/>
<rect x="421.40" y="108.37" width="1.6" height="1.6" fill="#46307a"/>
<rect x="418.48" y="104.91" width="1.6" height="1.6" fill="#46307a"/>
<rect x="419.11" y="104.29" width="1.6" height="1.6" fill="#46307a"/>
<rect x="417.46" y="115.27" width="1.6" height="1.6" fill="#46307a"/>
<rect x="419.02" y="95.62" width="1.6" height="1.6" fill="#46307a"/>
<rect x="423.04" y="88.53" width="1.6" height="1.6" fill="#46307a"/>
<rect x="420.53" y="99.35" width="1.6" height="1.6" fill="#46307a"/>
<rect x="426.26" y="103.77" width="1.6" height="1.6" fill="#46307a"/>
<rect x="419.46" y="112.75" width="1.6" height="1.6" fill="#46307a"/>
<rect x="430.92" y="88.39" width="1.6" height="1.6" fill="#46307a"/>
<rect x="427.72" y="97.61" width="1.6" height="1.6" fill="#46307a"/>
<rect x="412.67" y="118.54" width="1.6" height="1.6" fill="#46307a"/>
<rect x="427.68" y="103.77" width="1.6" height="1.6" fill="#46307a"/>
<rect x="427.70" y="104.26" width="1.6" height="1.6" fill="#46307a"/>
<rect x="425.42" y="90.95" width="1.6" height="1.6" fill="#46307a"/>
<rect x="415.25" y="98.39" width="1.6" height="1.6" fill="#46307a"/>
<rect x="420.09" y="106.33" width="1.6" height="1.6" fill="#46307a"/>
<rect x="414.93" y="105.01" width="1.6" height="1.6" fill="#46307a"/>
<rect x="411.01" y="115.51" width="1.6" height="1.6" fill="#46307a"/>
<rect x="417.71" y="105.60" width="1.6" height="1.6" fill="#46307a"/>
<rect x="431.35" y="106.29" width="1.6" height="1.6" fill="#46307a"/>
<rect x="427.46" y="101.03" width="1.6" height="1.6" fill="#46307a"/>
<rect x="423.51" y="109.53" width="1.6" height="1.6" fill="#46307a"/>
<rect x="425.82" y="96.62" width="1.6" height="1.6" fill="#46307a"/>
<rect x="420.40" y="96.14" width="1.6" height="1.6" fill="#46307a"/>
<rect x="416.06" y="108.71" width="1.6" height="1.6" fill="#46307a"/>
<rect x="427.13" y="90.36" width="1.6" height="1.6" fill="#46307a"/>
<rect x="430.70" y="93.92" width="1.6" height="1.6" fill="#46307a"/>
<rect x="419.08" y="109.40" width="1.6" height="1.6" fill="#46307a"/>
<rect x="410.81" y="118.82" width="1.6" height="1.6" fill="#46307a"/>
<rect x="423.88" y="106.03" width="1.6" height="1.6" fill="#46307a"/>
<rect x="412.27" y="114.94" width="1.6" height="1.6" fill="#46307a"/>
<rect x="428.13" y="98.99" width="1.6" height="1.6" fill="#46307a"/>
<rect x="418.70" y="110.19" width="1.6" height="1.6" fill="#46307a"/>
<rect x="422.48" y="106.64" width="1.6" height="1.6" fill="#46307a"/>
<rect x="415.37" y="116.81" width="1.6" height="1.6" fill="#46307a"/>
<rect x="422.23" y="110.67" width="1.6" height="1.6" fill="#46307a"/>
<rect x="426.84" y="95.80" width="1.6" height="1.6" fill="#46307a"/>
<rect x="416.37" y="103.76" width="1.6" height="1.6" fill="#46307a"/>
<rect x="422.32" y="106.95" width="1.6" height="1.6" fill="#46307a"/>
<rect x="414.63" y="117.85" width="1.6" height="1.6" fill="#46307a"/>
<rect x="418.57" y="107.26" width="1.6" height="1.6" fill="#46307a"/>
<rect x="419.81" y="114.58" width="1.6" height="1.6" fill="#46307a"/>
<rect x="422.63" y="98.34" width="1.6" height="1.6" fill="#46307a"/>
<rect x="412.29" y="105.41" width="1.6" height="1.6" fill="#46307a"/>
<rect x="414.76" y="110.73" width="1.6" height="1.6" fill="#46307a"/>
<rect x="424.33" y="103.00" width="1.6" height="1.6" fill="#46307a"/>
<rect x="423.62" y="101.26" width="1.6" height="1.6" fill="#46307a"/>
<rect x="415.40" y="95.37" width="1.6" height="1.6" fill="#46307a"/>
<rect x="416.72" y="99.95" width="1.6" height="1.6" fill="#46307a"/>
<rect x="422.14" y="101.30" width="1.6" height="1.6" fill="#46307a"/>
<rect x="418.88" y="113.46" width="1.6" height="1.6" fill="#46307a"/>
<rect x="416.99" y="113.42" width="1.6" height="1.6" fill="#46307a"/>
<rect x="428.55" y="89.87" width="1.6" height="1.6" fill="#46307a"/>
<rect x="419.13" y="96.23" width="1.6" height="1.6" fill="#46307a"/>
<rect x="426.97" y="95.92" width="1.6" height="1.6" fill="#46307a"/>
<rect x="419.87" y="109.75" width="1.6" height="1.6" fill="#46307a"/>
<rect x="423.78" y="94.62" width="1.6" height="1.6" fill="#46307a"/>
<rect x="422.88" y="106.21" width="1.6" height="1.6" fill="#46307a"/>
<rect x="426.32" y="105.27" width="1.6" height="1.6" fill="#46307a"/>
<rect x="426.49" y="101.69" width="1.6" height="1.6" fill="#46307a"/>
<rect x="427.20" y="93.37" width="1.6" height="1.6" fill="#46307a"/>
<rect x="414.92" y="108.43" width="1.6" height="1.6" fill="#46307a"/>
<rect x="412.91" y="103.86" width="1.6" height="1.6" fill="#46307a"/>
<rect x="424.29" y="87.65" width="1.6" height="1.6" fill="#46307a"/>
<rect x="413.59" y="107.31" width="1.6" height="1.6" fill="#46307a"/>
<rect x="415.36" y="104.32" width="1.6" height="1.6" fill="#46307a"/>
<rect x="429.16" y="99.07" width="1.6" height="1.6" fill="#46307a"/>
<rect x="428.97" y="96.29" width="1.6" height="1.6" fill="#46307a"/>
<rect x="426.48" y="100.49" width="1.6" height="1.6" fill="#46307a"/>
<rect x="422.29" y="87.15" width="1.6" height="1.6" fill="#46307a"/>
<rect x="419.51" y="108.87" width="1.6" height="1.6" fill="#46307a"/>
<rect x="433.53" y="98.59" width="1.6" height="1.6" fill="#46307a"/>
<rect x="426.49" y="93.70" width="1.6" height="1.6" fill="#46307a"/>
<rect x="423.13" y="94.62" width="1.6" height="1.6" fill="#46307a"/>
<rect x="414.29" y="117.41" width="1.6" height="1.6" fill="#46307a"/>
<rect x="418.22" y="107.82" width="1.6" height="1.6" fill="#46307a"/>
<rect x="410.37" y="118.64" width="1.6" height="1.6" fill="#46307a"/>
<rect x="428.83" y="103.76" width="1.6" height="1.6" fill="#46307a"/>
<rect x="412.00" y="100.42" width="1.6" height="1.6" fill="#46307a"/>
<rect x="413.62" y="113.34" width="1.6" height="1.6" fill="#46307a"/>
<rect x="420.35" y="96.73" width="1.6" height="1.6" fill="#46307a"/>
<rect x="414.56" y="105.89" width="1.6" height="1.6" fill="#46307a"/>
<rect x="420.54" y="98.72" width="1.6" height="1.6" fill="#46307a"/>
<rect x="428.94" y="90.01" width="1.6" height="1.6" fill="#46307a"/>
<rect x="427.43" y="94.65" width="1.6" height="1.6" fill="#46307a"/>
<rect x="416.91" y="105.56" width="1.6" height="1.6" fill="#46307a"/>
<rect x="429.16" y="103.06" width="1.6" height="1.6" fill="#46307a"/>
<rect x="417.56" y="113.42" width="1.6" height="1.6" fill="#46307a"/>
<rect x="418.33" y="97.89" width="1.6" height="1.6" fill="#46307a"/>
<rect x="420.06" y="112.93" width="1.6" height="1.6" fill="#46307a"/>
<rect x="433.35" y="103.20" width="1.6" height="1.6" fill="#46307a"/>
<rect x="416.03" y="113.04" width="1.6" height="1.6" fill="#46307a"/>
<rect x="426.47" y="90.42" width="1.6" height="1.6" fill="#46307a"/>
<rect x="419.66" y="104.73" width="1.6" height="1.6" fill="#46307a"/>
<rect x="420.90" y="104.21" width="1.6" height="1.6" fill="#46307a"/>
<rect x="412.55" y="108.16" width="1.6" height="1.6" fill="#46307a"/>
<rect x="424.62" y="100.30" width="1.6" height="1.6" fill="#46307a"/>
<rect x="427.92" y="94.20" width="1.6" height="1.6" fill="#46307a"/>
<rect x="420.09" y="109.10" width="1.6" height="1.6" fill="#46307a"/>
<rect x="418.42" y="111.38" width="1.6" height="1.6" fill="#46307a"/>
<rect x="408.02" y="118.26" width="1.6" height="1.6" fill="#46307a"/>
<rect x="418.87" y="113.93" width="1.6" height="1.6" fill="#46307a"/>
<rect x="426.46" y="100.29" width="1.6" height="1.6" fill="#46307a"/>
<rect x="411.17" y="111.93" width="1.6" height="1.6" fill="#46307a"/>
<rect x="412.49" y="101.67" width="1.6" height="1.6" fill="#46307a"/>
<rect x="429.43" y="103.51" width="1.6" height="1.6" fill="#46307a"/>
<rect x="425.54" y="98.36" width="1.6" height="1.6" fill="#46307a"/>
<rect x="418.85" y="112.48" width="1.6" height="1.6" fill="#46307a"/>
<rect x="422.56" y="104.21" width="1.6" height="1.6" fill="#46307a"/>
<rect x="414.56" y="101.64" width="1.6" height="1.6" fill="#46307a"/>
<rect x="413.43" y="106.93" width="1.6" height="1.6" fill="#46307a"/>
<rect x="423.71" y="101.02" width="1.6" height="1.6" fill="#46307a"/>
<rect x="415.82" y="116.18" width="1.6" height="1.6" fill="#46307a"/>
<rect x="415.98" y="106.51" width="1.6" height="1.6" fill="#46307a"/>
<rect x="412.45" y="109.98" width="1.6" height="1.6" fill="#46307a"/>
<rect x="429.69" y="91.03" width="1.6" height="1.6" fill="#46307a"/>
<rect x="424.41" y="101.48" width="1.6" height="1.6" fill="#46307a"/>
<rect x="409.80" y="117.24" width="1.6" height="1.6" fill="#46307a"/>
<rect x="414.64" y="109.27" width="1.6" height="1.6" fill="#46307a"/>
<rect x="427.56" y="100.11" width="1.6" height="1.6" fill="#46307a"/>
<rect x="419.12" y="110.45" width="1.6" height="1.6" fill="#46307a"/>
<rect x="416.98" y="108.96" width="1.6" height="1.6" fill="#46307a"/>
<rect x="407.61" y="107.51" width="1.6" height="1.6" fill="#46307a"/>
<rect x="428.09" y="101.85" width="1.6" height="1.6" fill="#46307a"/>
<rect x="422.51" y="103.65" width="1.6" height="1.6" fill="#46307a"/>
<rect x="431.15" y="101.99" width="1.6" height="1.6" fill="#46307a"/>
<rect x="420.65" y="113.53" width="1.6" height="1.6" fill="#46307a"/>
<rect x="425.18" y="98.64" width="1.6" height="1.6" fill="#46307a"/>
<rect x="424.26" y="93.96" width="1.6" height="1.6" fill="#46307a"/>
<rect x="428.79" y="105.33" width="1.6" height="1.6" fill="#46307a"/>
<rect x="425.02" y="90.44" width="1.6" height="1.6" fill="#46307a"/>
<rect x="409.80" y="118.15" width="1.6" height="1.6" fill="#46307a"/>
<rect x="427.15" y="92.03" width="1.6" height="1.6" fill="#46307a"/>
<rect x="410.67" y="111.56" width="1.6" height="1.6" fill="#46307a"/>
<rect x="409.73" y="118.83" width="1.6" height="1.6" fill="#46307a"/>
<rect x="417.99" y="113.87" width="1.6" height="1.6" fill="#46307a"/>
<rect x="420.01" y="119.80" width="1.6" height="1.6" fill="#3d4b88"/>
<rect x="419.67" y="120.00" width="1.6" height="1.6" fill="#3c4d89"/>
<rect x="398.81" y="136.21" width="1.6" height="1.6" fill="#3c4e89"/>
<rect x="413.35" y="114.08" width="1.6" height="1.6" fill="#3b508a"/>
<rect x="400.39" y="134.94" width="1.6" height="1.6" fill="#3a538b"/>
<rect x="414.03" y="114.00" width="1.6" height="1.6" fill="#3a548b"/>
<rect x="412.93" y="114.72" width="1.6" height="1.6" fill="#39548b"/>
<rect x="412.92" y="114.73" width="1.6" height="1.6" fill="#39548b"/>
<rect x="400.85" y="134.56" width="1.6" height="1.6" fill="#39548b"/>
<rect x="396.48" y="134.62" width="1.6" height="1.6" fill="#39558b"/>
<rect x="412.84" y="114.86" width="1.6" height="1.6" fill="#39558b"/>
<rect x="400.70" y="134.61" width="1.6" height="1.6" fill="#39568b"/>
<rect x="398.87" y="135.92" width="1.6" height="1.6" fill="#39568b"/>
<rect x="399.09" y="135.75" width="1.6" height="1.6" fill="#38578c"/>
<rect x="398.00" y="132.79" width="1.6" height="1.6" fill="#38578c"/>
<rect x="400.97" y="134.36" width="1.6" height="1.6" fill="#38588c"/>
<rect x="412.69" y="115.29" width="1.6" height="1.6" fill="#37598c"/>
<rect x="398.01" y="132.89" width="1.6" height="1.6" fill="#375a8c"/>
<rect x="397.30" y="133.90" width="1.6" height="1.6" fill="#355e8c"/>
<rect x="398.71" y="132.13" width="1.6" height="1.6" fill="#355e8c"/>
<rect x="396.24" y="135.15" width="1.6" height="1.6" fill="#355e8c"/>
<rect x="400.04" y="130.30" width="1.6" height="1.6" fill="#355e8c"/>
<rect x="396.91" y="134.41" width="1.6" height="1.6" fill="#355e8c"/>
<rect x="413.53" y="115.21" width="1.6" height="1.6" fill="#34618c"/>
<rect x="418.40" y="119.72" width="1.6" height="1.6" fill="#33618d"/>
<rect x="413.50" y="115.30" width="1.6" height="1.6" fill="#33628d"/>
<rect x="399.22" y="135.28" width="1.6" height="1.6" fill="#31668d"/>
<rect x="404.27" y="131.68" width="1.6" height="1.6" fill="#31678d"/>
<rect x="401.46" y="128.71" width="1.6" height="1.6" fill="#30688d"/>
<rect x="411.15" y="117.56" width="1.6" height="1.6" fill="#30688d"/>
<rect x="415.79" y="122.28" width="1.6" height="1.6" fill="#30688d"/>
<rect x="398.80" y="132.39" width="1.6" height="1.6" fill="#30698d"/>
<rect x="404.51" y="131.44" width="1.6" height="1.6" fill="#2f6a8d"/>
<rect x="418.22" y="119.27" width="1.6" height="1.6" fill="#2f6a8d"/>
<rect x="399.87" y="131.03" width="1.6" height="1.6" fill="#2f6a8d"/>
<rect x="397.78" y="136.33" width="1.6" height="1.6" fill="#2f6a8d"/>
<rect x="412.82" y="116.32" width="1.6" height="1.6" fill="#2f6b8d"/>
<rect x="415.23" y="122.60" width="1.6" height="1.6" fill="#2f6c8d"/>
<rect x="418.45" y="118.74" width="1.6" height="1.6" fill="#2e6c8e"/>
<rect x="414.92" y="122.79" width="1.6" height="1.6" fill="#2e6e8e"/>
<rect x="397.65" y="136.34" width="1.6" height="1.6" fill="#2d6f8e"/>
<rect x="402.66" y="127.38" width="1.6" height="1.6" fill="#2d6f8e"/>
<rect x="398.27" y="135.79" width="1.6" height="1.6" fill="#2c708e"/>
<rect x="417.18" y="120.10" width="1.6" height="1.6" fill="#2b738e"/>
<rect x="397.82" y="133.85" width="1.6" height="1.6" fill="#2b738e"/>
<rect x="399.71" y="134.62" width="1.6" height="1.6" fill="#2b738e"/>
<rect x="415.81" y="121.64" width="1.6" height="1.6" fill="#2b738e"/>
<rect x="398.41" y="133.14" width="1.6" height="1.6" fill="#2b738e"/>
<rect x="400.62" y="130.34" width="1.6" height="1.6" fill="#2b748e"/>
<rect x="399.98" y="131.18" width="1.6" height="1.6" fill="#2b748e"/>
<rect x="416.45" y="120.87" width="1.6" height="1.6" fill="#2b758e"/>
<rect x="401.26" y="129.52" width="1.6" height="1.6" fill="#2a758e"/>
<rect x="400.24" y="130.87" width="1.6" height="1.6" fill="#2a758e"/>
<rect x="415.79" y="121.54" width="1.6" height="1.6" fill="#2a768e"/>
<rect x="400.56" y="130.46" width="1.6" height="1.6" fill="#2a768e"/>
<rect x="397.81" y="133.96" width="1.6" height="1.6" fill="#2a778e"/>
<rect x="401.93" y="128.68" width="1.6" height="1.6" fill="#2a778e"/>
<rect x="416.90" y="114.69" width="1.6" height="1.6" fill="#2a788e"/>
<rect x="403.86" y="126.04" width="1.6" height="1.6" fill="#2a788e"/>
<rect x="407.16" y="129.25" width="1.6" height="1.6" fill="#2a788e"/>
<rect x="397.32" y="134.60" width="1.6" height="1.6" fill="#29788e"/>
<rect x="402.60" y="132.38" width="1.6" height="1.6" fill="#29798e"/>
<rect x="418.70" y="116.97" width="1.6" height="1.6" fill="#29798e"/>
<rect x="418.18" y="117.97" width="1.6" height="1.6" fill="#297a8e"/>
<rect x="417.13" y="114.89" width="1.6" height="1.6" fill="#287b8e"/>
<rect x="416.93" y="114.94" width="1.6" height="1.6" fill="#287c8e"/>
<rect x="412.96" y="124.36" width="1.6" height="1.6" fill="#287c8e"/>
<rect x="408.87" y="120.46" width="1.6" height="1.6" fill="#287c8e"/>
<rect x="411.76" y="118.00" width="1.6" height="1.6" fill="#287d8e"/>
<rect x="417.33" y="119.19" width="1.6" height="1.6" fill="#277e8e"/>
<rect x="397.64" y="134.37" width="1.6" height="1.6" fill="#277f8e"/>
<rect x="417.04" y="115.17" width="1.6" height="1.6" fill="#27808e"/>
<rect x="418.32" y="116.09" width="1.6" height="1.6" fill="#27808e"/>
<rect x="400.17" y="134.02" width="1.6" height="1.6" fill="#27808e"/>
<rect x="416.08" y="120.77" width="1.6" height="1.6" fill="#27808e"/>
<rect x="405.68" y="124.01" width="1.6" height="1.6" fill="#26818d"/>
<rect x="411.48" y="125.61" width="1.6" height="1.6" fill="#26818d"/>
<rect x="416.85" y="119.74" width="1.6" height="1.6" fill="#26818d"/>
<rect x="400.90" y="130.33" width="1.6" height="1.6" fill="#26828d"/>
<rect x="415.06" y="115.90" width="1.6" height="1.6" fill="#26828d"/>
<rect x="418.07" y="115.95" width="1.6" height="1.6" fill="#26828d"/>
<rect x="398.83" y="133.04" width="1.6" height="1.6" fill="#25848d"/>
<rect x="402.83" y="132.00" width="1.6" height="1.6" fill="#25848d"/>
<rect x="399.20" y="134.67" width="1.6" height="1.6" fill="#25848d"/>
<rect x="397.39" y="136.10" width="1.6" height="1.6" fill="#25848d"/>
<rect x="400.55" y="133.63" width="1.6" height="1.6" fill="#25858d"/>
<rect x="399.85" y="131.78" width="1.6" height="1.6" fill="#25858d"/>
<rect x="410.84" y="119.18" width="1.6" height="1.6" fill="#25858d"/>
<rect x="398.71" y="135.02" width="1.6" height="1.6" fill="#25868d"/>
<rect x="417.39" y="115.76" width="1.6" height="1.6" fill="#25868d"/>
<rect x="403.40" y="131.55" width="1.6" height="1.6" fill="#24868d"/>
<rect x="400.15" y="133.91" width="1.6" height="1.6" fill="#24868d"/>
<rect x="403.10" y="127.58" width="1.6" height="1.6" fill="#24868d"/>
<rect x="407.50" y="128.61" width="1.6" height="1.6" fill="#24868d"/>
<rect x="397.28" y="136.14" width="1.6" height="1.6" fill="#24878d"/>
<rect x="397.91" y="135.58" width="1.6" height="1.6" fill="#24878d"/>
<rect x="399.31" y="134.54" width="1.6" height="1.6" fill="#24878d"/>
<rect x="415.87" y="120.71" width="1.6" height="1.6" fill="#24878d"/>
<rect x="398.19" y="135.37" width="1.6" height="1.6" fill="#24878d"/>
<rect x="414.77" y="116.25" width="1.6" height="1.6" fill="#24878d"/>
<rect x="417.41" y="115.90" width="1.6" height="1.6" fill="#24878d"/>
<rect x="414.50" y="116.38" width="1.6" height="1.6" fill="#24878d"/>
<rect x="407.04" y="128.93" width="1.6" height="1.6" fill="#24878d"/>
<rect x="401.82" y="132.66" width="1.6" height="1.6" fill="#24888d"/>
<rect x="407.29" y="122.42" width="1.6" height="1.6" fill="#24888d"/>
<rect x="413.90" y="116.81" width="1.6" height="1.6" fill="#23898d"/>
<rect x="417.51" y="116.45" width="1.6" height="1.6" fill="#238a8d"/>
<rect x="417.09" y="118.70" width="1.6" height="1.6" fill="#238a8d"/>
<rect x="397.34" y="135.12" width="1.6" height="1.6" fill="#238b8d"/>
<rect x="417.39" y="116.30" width="1.6" height="1.6" fill="#238b8d"/>
<rect x="416.85" y="119.15" width="1.6" height="1.6" fill="#238b8d"/>
<rect x="400.55" y="133.51" width="1.6" height="1.6" fill="#238b8d"/>
<rect x="400.26" y="131.40" width="1.6" height="1.6" fill="#238c8d"/>
<rect x="417.38" y="117.75" width="1.6" height="1.6" fill="#238c8d"/>
<rect x="401.15" y="133.06" width="1.6" height="1.6" fill="#228c8d"/>
<rect x="416.34" y="116.03" width="1.6" height="1.6" fill="#228c8d"/>
<rect x="417.36" y="116.51" width="1.6" height="1.6" fill="#228c8d"/>
<rect x="400.65" y="133.41" width="1.6" height="1.6" fill="#228c8d"/>
<rect x="397.17" y="136.03" width="1.6" height="1.6" fill="#228c8d"/>
<rect x="417.43" y="117.02" width="1.6" height="1.6" fill="#228d8d"/>
<rect x="397.25" y="135.91" width="1.6" height="1.6" fill="#228d8d"/>
<rect x="417.31" y="117.09" width="1.6" height="1.6" fill="#228e8d"/>
<rect x="398.39" y="135.00" width="1.6" height="1.6" fill="#218f8d"/>
<rect x="406.22" y="123.85" width="1.6" height="1.6" fill="#218f8d"/>
<rect x="397.46" y="135.50" width="1.6" height="1.6" fill="#21908d"/>
<rect x="397.19" y="135.64" width="1.6" height="1.6" fill="#21908d"/>
<rect x="417.18" y="117.39" width="1.6" height="1.6" fill="#21908d"/>
<rect x="416.51" y="116.35" width="1.6" height="1.6" fill="#21908d"/>
<rect x="414.97" y="116.56" width="1.6" height="1.6" fill="#21918d"/>
<rect x="408.23" y="127.83" width="1.6" height="1.6" fill="#21918d"/>
<rect x="399.45" y="134.21" width="1.6" height="1.6" fill="#21918d"/>
<rect x="400.86" y="130.76" width="1.6" height="1.6" fill="#21918c"/>
<rect x="398.31" y="134.08" width="1.6" height="1.6" fill="#21918c"/>
<rect x="415.77" y="120.35" width="1.6" height="1.6" fill="#21918c"/>
<rect x="417.06" y="117.65" width="1.6" height="1.6" fill="#21928c"/>
<rect x="416.98" y="116.92" width="1.6" height="1.6" fill="#21928c"/>
<rect x="417.01" y="117.15" width="1.6" height="1.6" fill="#21928c"/>
<rect x="404.29" y="130.67" width="1.6" height="1.6" fill="#22938c"/>
<rect x="397.88" y="134.95" width="1.6" height="1.6" fill="#22938c"/>
<rect x="416.08" y="119.81" width="1.6" height="1.6" fill="#22938c"/>
<rect x="416.20" y="119.60" width="1.6" height="1.6" fill="#22948b"/>
<rect x="399.67" y="132.43" width="1.6" height="1.6" fill="#22948b"/>
<rect x="400.54" y="131.28" width="1.6" height="1.6" fill="#22948b"/>
<rect x="398.36" y="134.16" width="1.6" height="1.6" fill="#22948b"/>
<rect x="401.59" y="129.91" width="1.6" height="1.6" fill="#22958b"/>
<rect x="402.30" y="132.07" width="1.6" height="1.6" fill="#22958b"/>
<rect x="411.61" y="118.95" width="1.6" height="1.6" fill="#22958b"/>
<rect x="416.59" y="118.78" width="1.6" height="1.6" fill="#22958b"/>
<rect x="412.86" y="117.95" width="1.6" height="1.6" fill="#22958b"/>
<rect x="398.87" y="134.46" width="1.6" height="1.6" fill="#22958b"/>
<rect x="415.72" y="116.67" width="1.6" height="1.6" fill="#22958b"/>
<rect x="406.30" y="129.12" width="1.6" height="1.6" fill="#22978a"/>
<rect x="398.59" y="134.51" width="1.6" height="1.6" fill="#23978a"/>
<rect x="400.14" y="133.52" width="1.6" height="1.6" fill="#23988a"/>
<rect x="398.55" y="134.15" width="1.6" height="1.6" fill="#23988a"/>
<rect x="414.87" y="121.14" width="1.6" height="1.6" fill="#239989"/>
<rect x="416.37" y="117.15" width="1.6" height="1.6" fill="#239989"/>
<rect x="398.62" y="134.36" width="1.6" height="1.6" fill="#239989"/>
<rect x="414.76" y="117.06" width="1.6" height="1.6" fill="#239989"/>
<rect x="414.68" y="121.29" width="1.6" height="1.6" fill="#239a89"/>
<rect x="401.51" y="130.17" width="1.6" height="1.6" fill="#239a89"/>
<rect x="415.48" y="117.01" width="1.6" height="1.6" fill="#239b89"/>
<rect x="416.38" y="117.51" width="1.6" height="1.6" fill="#239b89"/>
<rect x="399.05" y="133.54" width="1.6" height="1.6" fill="#239b88"/>
<rect x="414.97" y="117.15" width="1.6" height="1.6" fill="#249c88"/>
<rect x="404.61" y="126.24" width="1.6" height="1.6" fill="#249d88"/>
<rect x="407.24" y="123.10" width="1.6" height="1.6" fill="#249d88"/>
<rect x="415.93" y="119.39" width="1.6" height="1.6" fill="#249d88"/>
<rect x="412.72" y="118.34" width="1.6" height="1.6" fill="#249d88"/>
<rect x="400.07" y="133.38" width="1.6" height="1.6" fill="#249e87"/>
<rect x="399.44" y="133.15" width="1.6" height="1.6" fill="#249e87"/>
<rect x="401.10" y="132.66" width="1.6" height="1.6" fill="#249f87"/>
<rect x="412.92" y="123.14" width="1.6" height="1.6" fill="#24a086"/>
<rect x="399.55" y="133.50" width="1.6" height="1.6" fill="#24a086"/>
<rect x="401.51" y="130.34" width="1.6" height="1.6" fill="#24a186"/>
<rect x="401.62" y="130.22" width="1.6" height="1.6" fill="#25a186"/>
<rect x="400.55" y="131.69" width="1.6" height="1.6" fill="#25a286"/>
<rect x="412.09" y="118.97" width="1.6" height="1.6" fill="#25a286"/>
<rect x="415.21" y="117.48" width="1.6" height="1.6" fill="#25a285"/>
<rect x="414.48" y="117.60" width="1.6" height="1.6" fill="#25a285"/>
<rect x="415.93" y="118.00" width="1.6" height="1.6" fill="#25a285"/>
<rect x="404.58" y="130.15" width="1.6" height="1.6" fill="#25a385"/>
<rect x="410.27" y="120.45" width="1.6" height="1.6" fill="#25a385"/>
<rect x="401.04" y="132.58" width="1.6" height="1.6" fill="#25a485"/>
<rect x="415.89" y="118.39" width="1.6" height="1.6" fill="#25a485"/>
<rect x="414.43" y="121.21" width="1.6" height="1.6" fill="#25a485"/>
<rect x="400.58" y="131.74" width="1.6" height="1.6" fill="#25a485"/>
<rect x="405.82" y="124.97" width="1.6" height="1.6" fill="#25a485"/>
<rect x="403.00" y="131.24" width="1.6" height="1.6" fill="#25a485"/>
<rect x="404.01" y="130.50" width="1.6" height="1.6" fill="#25a584"/>
<rect x="412.70" y="123.23" width="1.6" height="1.6" fill="#25a584"/>
<rect x="415.31" y="117.77" width="1.6" height="1.6" fill="#26a684"/>
<rect x="411.93" y="119.23" width="1.6" height="1.6" fill="#26a684"/>
<rect x="407.70" y="127.73" width="1.6" height="1.6" fill="#26a684"/>
<rect x="415.53" y="118.08" width="1.6" height="1.6" fill="#26a783"/>
<rect x="415.43" y="117.97" width="1.6" height="1.6" fill="#26a783"/>
<rect x="414.27" y="117.91" width="1.6" height="1.6" fill="#26a783"/>
<rect x="400.43" y="132.67" width="1.6" height="1.6" fill="#26a883"/>
<rect x="400.88" y="131.52" width="1.6" height="1.6" fill="#26a983"/>
<rect x="401.05" y="132.39" width="1.6" height="1.6" fill="#26a983"/>
<rect x="407.95" y="127.48" width="1.6" height="1.6" fill="#26a983"/>
<rect x="412.66" y="118.80" width="1.6" height="1.6" fill="#26aa82"/>
<rect x="402.29" y="129.57" width="1.6" height="1.6" fill="#26aa82"/>
<rect x="400.77" y="131.76" width="1.6" height="1.6" fill="#26aa82"/>
<rect x="401.49" y="130.70" width="1.6" height="1.6" fill="#27ab82"/>
<rect x="411.18" y="119.99" width="1.6" height="1.6" fill="#27ac82"/>
<rect x="406.38" y="128.62" width="1.6" height="1.6" fill="#27ad81"/>
<rect x="415.02" y="119.75" width="1.6" height="1.6" fill="#28ae80"/>
<rect x="409.65" y="121.24" width="1.6" height="1.6" fill="#29ae80"/>
<rect x="403.55" y="128.05" width="1.6" height="1.6" fill="#2aae80"/>
<rect x="403.68" y="130.53" width="1.6" height="1.6" fill="#2caf7e"/>
<rect x="413.72" y="121.61" width="1.6" height="1.6" fill="#2cb07e"/>
<rect x="401.02" y="132.04" width="1.6" height="1.6" fill="#2cb07e"/>
<rect x="415.04" y="119.17" width="1.6" height="1.6" fill="#2fb17d"/>
<rect x="409.38" y="126.20" width="1.6" height="1.6" fill="#30b27c"/>
<rect x="402.20" y="129.98" width="1.6" height="1.6" fill="#33b37a"/>
<rect x="414.41" y="118.57" width="1.6" height="1.6" fill="#34b37a"/>
<rect x="410.48" y="120.69" width="1.6" height="1.6" fill="#34b47a"/>
<rect x="414.40" y="120.49" width="1.6" height="1.6" fill="#34b479"/>
<rect x="406.05" y="128.73" width="1.6" height="1.6" fill="#35b479"/>
<rect x="413.24" y="118.86" width="1.6" height="1.6" fill="#35b479"/>
<rect x="414.78" y="119.15" width="1.6" height="1.6" fill="#37b578"/>
<rect x="401.79" y="130.66" width="1.6" height="1.6" fill="#37b578"/>
<rect x="401.76" y="130.77" width="1.6" height="1.6" fill="#39b677"/>
<rect x="413.29" y="118.98" width="1.6" height="1.6" fill="#3cb875"/>
<rect x="402.69" y="130.99" width="1.6" height="1.6" fill="#3cb875"/>
<rect x="414.40" y="119.23" width="1.6" height="1.6" fill="#41ba72"/>
<rect x="412.28" y="123.06" width="1.6" height="1.6" fill="#45bc70"/>
<rect x="407.75" y="123.39" width="1.6" height="1.6" fill="#48be6e"/>
<rect x="410.16" y="125.18" width="1.6" height="1.6" fill="#4abf6d"/>
<rect x="411.00" y="120.64" width="1.6" height="1.6" fill="#4ec16b"/>
<rect x="403.67" y="130.12" width="1.6" height="1.6" fill="#4fc16b"/>
<rect x="404.40" y="129.64" width="1.6" height="1.6" fill="#4fc16a"/>
<rect x="413.19" y="119.47" width="1.6" height="1.6" fill="#50c26a"/>
<rect x="406.63" y="124.74" width="1.6" height="1.6" fill="#50c26a"/>
<rect x="412.89" y="122.03" width="1.6" height="1.6" fill="#51c269"/>
<rect x="411.10" y="120.63" width="1.6" height="1.6" fill="#52c368"/>
<rect x="402.78" y="129.80" width="1.6" height="1.6" fill="#53c368"/>
<rect x="412.63" y="119.76" width="1.6" height="1.6" fill="#54c467"/>
<rect x="413.45" y="119.60" width="1.6" height="1.6" fill="#55c467"/>
<rect x="413.21" y="121.42" width="1.6" height="1.6" fill="#56c566"/>
<rect x="403.79" y="129.93" width="1.6" height="1.6" fill="#56c566"/>
<rect x="402.84" y="130.36" width="1.6" height="1.6" fill="#57c566"/>
<rect x="403.06" y="130.21" width="1.6" height="1.6" fill="#5ac764"/>
<rect x="413.09" y="119.77" width="1.6" height="1.6" fill="#5ac764"/>
<rect x="412.82" y="119.84" width="1.6" height="1.6" fill="#5bc863"/>
<rect x="405.22" y="128.91" width="1.6" height="1.6" fill="#5fc961"/>
<rect x="403.28" y="130.03" width="1.6" height="1.6" fill="#5fc961"/>
<rect x="403.24" y="130.03" width="1.6" height="1.6" fill="#60c961"/>
<rect x="409.30" y="125.79" width="1.6" height="1.6" fill="#60c960"/>
<rect x="406.61" y="124.95" width="1.6" height="1.6" fill="#62ca5f"/>
<rect x="406.53" y="127.94" width="1.6" height="1.6" fill="#62ca5f"/>
<rect x="413.34" y="120.09" width="1.6" height="1.6" fill="#62ca5f"/>
<rect x="403.48" y="129.04" width="1.6" height="1.6" fill="#63ca5f"/>
<rect x="403.77" y="129.76" width="1.6" height="1.6" fill="#64ca5e"/>
<rect x="410.83" y="121.01" width="1.6" height="1.6" fill="#65ca5d"/>
<rect x="412.25" y="122.59" width="1.6" height="1.6" fill="#67cb5c"/>
<rect x="411.86" y="123.09" width="1.6" height="1.6" fill="#67cb5c"/>
<rect x="410.11" y="124.91" width="1.6" height="1.6" fill="#68cb5b"/>
<rect x="409.86" y="121.80" width="1.6" height="1.6" fill="#69cb5b"/>
<rect x="413.23" y="120.61" width="1.6" height="1.6" fill="#6bcc5a"/>
<rect x="411.37" y="123.57" width="1.6" height="1.6" fill="#6bcc59"/>
<rect x="412.69" y="121.81" width="1.6" height="1.6" fill="#6dcc58"/>
<rect x="405.02" y="127.05" width="1.6" height="1.6" fill="#73ce55"/>
<rect x="412.96" y="120.99" width="1.6" height="1.6" fill="#75ce53"/>
<rect x="412.98" y="120.81" width="1.6" height="1.6" fill="#76cf53"/>
<rect x="404.35" y="129.17" width="1.6" height="1.6" fill="#79cf51"/>
<rect x="412.00" y="122.69" width="1.6" height="1.6" fill="#7ad050"/>
<rect x="407.43" y="124.21" width="1.6" height="1.6" fill="#7cd04f"/>
<rect x="412.82" y="120.90" width="1.6" height="1.6" fill="#7cd04f"/>
<rect x="404.22" y="128.39" width="1.6" height="1.6" fill="#7fd14d"/>
<rect x="404.07" y="128.70" width="1.6" height="1.6" fill="#7fd14d"/>
<rect x="412.00" y="122.55" width="1.6" height="1.6" fill="#82d24b"/>
<rect x="411.71" y="120.85" width="1.6" height="1.6" fill="#83d24b"/>
<rect x="404.69" y="127.73" width="1.6" height="1.6" fill="#84d24a"/>
<rect x="406.66" y="127.57" width="1.6" height="1.6" fill="#84d24a"/>
<rect x="405.58" y="126.54" width="1.6" height="1.6" fill="#84d24a"/>
<rect x="405.04" y="127.25" width="1.6" height="1.6" fill="#85d349"/>
<rect x="411.61" y="120.98" width="1.6" height="1.6" fill="#89d447"/>
<rect x="409.95" y="122.05" width="1.6" height="1.6" fill="#8ad446"/>
<rect x="405.02" y="127.35" width="1.6" height="1.6" fill="#8bd446"/>
<rect x="408.70" y="123.14" width="1.6" height="1.6" fill="#8bd445"/>
<rect x="411.15" y="121.29" width="1.6" height="1.6" fill="#91d642"/>
<rect x="407.26" y="124.63" width="1.6" height="1.6" fill="#92d641"/>
<rect x="411.74" y="122.54" width="1.6" height="1.6" fill="#9bd83b"/>
<rect x="408.03" y="126.30" width="1.6" height="1.6" fill="#9ed93a"/>
<rect x="405.38" y="127.14" width="1.6" height="1.6" fill="#9fd939"/>
<rect x="406.54" y="125.70" width="1.6" height="1.6" fill="#a4da36"/>
<rect x="406.77" y="127.17" width="1.6" height="1.6" fill="#a5db35"/>
<rect x="405.49" y="127.12" width="1.6" height="1.6" fill="#a7db34"/>
<rect x="406.87" y="127.08" width="1.6" height="1.6" fill="#a7db34"/>
<rect x="405.41" y="127.79" width="1.6" height="1.6" fill="#acdc32"/>
<rect x="411.69" y="122.06" width="1.6" height="1.6" fill="#addc31"/>
<rect x="406.88" y="125.39" width="1.6" height="1.6" fill="#aedd31"/>
<rect x="405.54" y="127.26" width="1.6" height="1.6" fill="#b0dd31"/>
<rect x="407.71" y="124.38" width="1.6" height="1.6" fill="#b1dd31"/>
<rect x="405.49" y="127.58" width="1.6" height="1.6" fill="#b1dd31"/>
<rect x="409.02" y="125.38" width="1.6" height="1.6" fill="#b2dd31"/>
<rect x="410.99" y="121.78" width="1.6" height="1.6" fill="#b2dd31"/>
<rect x="411.07" y="121.79" width="1.6" height="1.6" fill="#b4dd30"/>
<rect x="405.87" y="126.84" width="1.6" height="1.6" fill="#b5dd30"/>
<rect x="411.45" y="122.02" width="1.6" height="1.6" fill="#b9de30"/>
<rect x="411.05" y="121.88" width="1.6" height="1.6" fill="#bade30"/>
<rect x="407.30" y="126.58" width="1.6" height="1.6" fill="#bbde2f"/>
<rect x="407.50" y="126.38" width="1.6" height="1.6" fill="#c0df2f"/>
<rect x="406.03" y="127.08" width="1.6" height="1.6" fill="#c1df2e"/>
<rect x="411.17" y="122.39" width="1.6" height="1.6" fill="#c5e02e"/>
<rect x="406.81" y="126.70" width="1.6" height="1.6" fill="#c9e02d"/>
<rect x="406.61" y="126.16" width="1.6" height="1.6" fill="#cae02d"/>
<rect x="410.23" y="123.69" width="1.6" height="1.6" fill="#cae02d"/>
<rect x="406.88" y="125.79" width="1.6" height="1.6" fill="#cce02d"/>
<rect x="406.48" y="126.64" width="1.6" height="1.6" fill="#cce12d"/>
<rect x="410.10" y="123.81" width="1.6" height="1.6" fill="#cde12d"/>
<rect x="409.81" y="122.98" width="1.6" height="1.6" fill="#cfe12c"/>
<rect x="406.87" y="125.96" width="1.6" height="1.6" fill="#d2e12c"/>
<rect x="409.43" y="123.30" width="1.6" height="1.6" fill="#d3e12c"/>
<rect x="407.57" y="124.97" width="1.6" height="1.6" fill="#d4e22b"/>
<rect x="407.03" y="125.77" width="1.6" height="1.6" fill="#d5e22b"/>
<rect x="408.80" y="123.78" width="1.6" height="1.6" fill="#d5e22b"/>
<rect x="407.00" y="125.91" width="1.6" height="1.6" fill="#d7e22b"/>
<rect x="409.91" y="123.24" width="1.6" height="1.6" fill="#dce32a"/>
<rect x="409.38" y="123.51" width="1.6" height="1.6" fill="#dde32a"/>
<rect x="409.47" y="123.50" width="1.6" height="1.6" fill="#e0e32a"/>
<rect x="409.78" y="123.77" width="1.6" height="1.6" fill="#e0e32a"/>
<rect x="408.05" y="125.64" width="1.6" height="1.6" fill="#e1e329"/>
<rect x="408.37" y="124.24" width="1.6" height="1.6" fill="#e1e329"/>
<rect x="408.61" y="124.16" width="1.6" height="1.6" fill="#e7e428"/>
<rect x="408.85" y="124.46" width="1.6" height="1.6" fill="#f5e626"/>
<rect x="408.20" y="124.76" width="1.6" height="1.6" fill="#f6e626"/>
<rect x="408.37" y="124.87" width="1.6" height="1.6" fill="#fce725"/>
<line x1="398.30" y1="136.20" x2="509.68" y2="28.28" stroke="#333" stroke-width="1.2" stroke-dasharray="2.8 1.8"/>
<text x="453.25" y="157.40" font-size="8.8" text-anchor="middle" textLength="133.00" lengthAdjust="spacingAndGlyphs">-Log10(TPCA modulation signature)</text>
<text x="453.25" y="166.30" font-size="8.8" text-anchor="middle" textLength="98.00" lengthAdjust="spacingAndGlyphs">Absolute Distance Change</text>
<text x="369.70" y="83.65" font-size="8.8" text-anchor="middle" textLength="133.00" lengthAdjust="spacingAndGlyphs" transform="rotate(-90 369.70 83.65)">-Log10(TPCA modulation signature)</text>
<text x="378.20" y="83.65" font-size="8.8" text-anchor="middle" textLength="96.00" lengthAdjust="spacingAndGlyphs" transform="rotate(-90 378.20 83.65)">Relative Distance Change</text>
<text x="508.20" y="130.80" font-size="8.8" text-anchor="end" textLength="77.60" lengthAdjust="spacingAndGlyphs">Spearman's r &gt; 0.95</text>
<circle cx="110.3" cy="263.45" r="47.35" fill="#8aa67c"/>
<circle cx="85.7" cy="263.3" r="23.2" fill="#f0876a"/>
<clipPath id="c1"><circle cx="110.3" cy="263.45" r="47.35"/></clipPath>
<circle cx="85.7" cy="263.3" r="23.2" fill="#c59470" clip-path="url(#c1)"/>
<circle cx="110.3" cy="263.45" r="47.35" fill="none" stroke="#555" stroke-width="0.7"/>
<circle cx="85.7" cy="263.3" r="23.2" fill="none" stroke="#333" stroke-width="0.8"/>
<text x="111.00" y="205.00" font-size="8.8" text-anchor="middle" textLength="81.80" lengthAdjust="spacingAndGlyphs">10 Temperature Points</text>
<text x="85.70" y="265.30" font-size="6.0" text-anchor="middle">10</text>
<text x="133.30" y="265.30" font-size="6.0" text-anchor="middle">32</text>
<text x="85.70" y="294.60" font-size="6.9" text-anchor="end" textLength="71.80" lengthAdjust="spacingAndGlyphs">Convergent complexes</text>
<text x="85.70" y="301.35" font-size="6.9" text-anchor="end" textLength="47.80" lengthAdjust="spacingAndGlyphs">identified using</text>
<text x="85.70" y="308.10" font-size="6.9" text-anchor="end" textLength="54.70" lengthAdjust="spacingAndGlyphs">absolute distance</text>
<text x="110.30" y="318.90" font-size="6.9" textLength="71.80" lengthAdjust="spacingAndGlyphs">Convergent complexes</text>
<text x="110.30" y="325.65" font-size="6.9" textLength="47.80" lengthAdjust="spacingAndGlyphs">identified using</text>
<text x="110.30" y="332.40" font-size="6.9" textLength="51.00" lengthAdjust="spacingAndGlyphs">relative distance</text>
<circle cx="327.1" cy="263.4" r="48.3" fill="#8aa67c"/>
<circle cx="289.8" cy="263.5" r="18.6" fill="#f0876a"/>
<clipPath id="c2"><circle cx="327.1" cy="263.4" r="48.3"/></clipPath>
<circle cx="289.8" cy="263.5" r="18.6" fill="#c59470" clip-path="url(#c2)"/>
<circle cx="327.1" cy="263.4" r="48.3" fill="none" stroke="#555" stroke-width="0.7"/>
<circle cx="289.8" cy="263.5" r="18.6" fill="none" stroke="#333" stroke-width="0.8"/>
<text x="324.15" y="204.00" font-size="8.8" text-anchor="middle" textLength="79.30" lengthAdjust="spacingAndGlyphs">4 Temperature Points</text>
<text x="275.00" y="265.40" font-size="6.0" text-anchor="middle">1</text>
<text x="293.20" y="265.40" font-size="6.0" text-anchor="middle">5</text>
<text x="341.80" y="265.40" font-size="6.0" text-anchor="middle">36</text>
<text x="289.80" y="291.30" font-size="6.9" text-anchor="end" textLength="71.80" lengthAdjust="spacingAndGlyphs">Convergent complexes</text>
<text x="289.80" y="298.05" font-size="6.9" text-anchor="end" textLength="47.80" lengthAdjust="spacingAndGlyphs">identified using</text>
<text x="289.80" y="304.80" font-size="6.9" text-anchor="end" textLength="54.70" lengthAdjust="spacingAndGlyphs">absolute distance</text>
<text x="327.10" y="320.90" font-size="6.9" textLength="71.80" lengthAdjust="spacingAndGlyphs">Convergent complexes</text>
<text x="327.10" y="327.65" font-size="6.9" textLength="47.80" lengthAdjust="spacingAndGlyphs">identified using</text>
<text x="327.10" y="334.40" font-size="6.9" textLength="51.00" lengthAdjust="spacingAndGlyphs">relative distance</text>
<rect x="459.20" y="199.00" width="127.50" height="124.40" fill="none" stroke="#7a7a7a" stroke-width="0.8"/>
<line x1="459.20" y1="323.40" x2="459.20" y2="326.40" stroke="#666" stroke-width="0.9" />
<text x="459.20" y="333.70" font-size="8.91" text-anchor="middle" textLength="4.20" lengthAdjust="spacingAndGlyphs">0</text>
<line x1="484.30" y1="323.40" x2="484.30" y2="326.40" stroke="#666" stroke-width="0.9" />
<text x="484.30" y="333.70" font-size="8.91" text-anchor="middle" textLength="8.40" lengthAdjust="spacingAndGlyphs">10</text>
<line x1="509.40" y1="323.40" x2="509.40" y2="326.40" stroke="#666" stroke-width="0.9" />
<text x="509.40" y="333.70" font-size="8.91" text-anchor="middle" textLength="8.40" lengthAdjust="spacingAndGlyphs">20</text>
<line x1="534.50" y1="323.40" x2="534.50" y2="326.40" stroke="#666" stroke-width="0.9" />
<text x="534.50" y="333.70" font-size="8.91" text-anchor="middle" textLength="8.40" lengthAdjust="spacingAndGlyphs">30</text>
<line x1="559.60" y1="323.40" x2="559.60" y2="326.40" stroke="#666" stroke-width="0.9" />
<text x="559.60" y="333.70" font-size="8.91" text-anchor="middle" textLength="8.40" lengthAdjust="spacingAndGlyphs">40</text>
<line x1="584.70" y1="323.40" x2="584.70" y2="326.40" stroke="#666" stroke-width="0.9" />
<text x="584.70" y="333.70" font-size="8.91" text-anchor="middle" textLength="8.40" lengthAdjust="spacingAndGlyphs">50</text>
<line x1="456.20" y1="323.40" x2="459.20" y2="323.40" stroke="#666" stroke-width="0.9" />
<text x="454.20" y="326.00" font-size="8.91" text-anchor="end" textLength="4.20" lengthAdjust="spacingAndGlyphs">0</text>
<line x1="456.20" y1="306.12" x2="459.20" y2="306.12" stroke="#666" stroke-width="0.9" />
<text x="454.20" y="308.73" font-size="8.91" text-anchor="end" textLength="4.20" lengthAdjust="spacingAndGlyphs">5</text>
<line x1="456.20" y1="288.85" x2="459.20" y2="288.85" stroke="#666" stroke-width="0.9" />
<text x="454.20" y="291.45" font-size="8.91" text-anchor="end" textLength="8.40" lengthAdjust="spacingAndGlyphs">10</text>
<line x1="456.20" y1="271.57" x2="459.20" y2="271.57" stroke="#666" stroke-width="0.9" />
<text x="454.20" y="274.18" font-size="8.91" text-anchor="end" textLength="8.40" lengthAdjust="spacingAndGlyphs">15</text>
<line x1="456.20" y1="254.30" x2="459.20" y2="254.30" stroke="#666" stroke-width="0.9" />
<text x="454.20" y="256.90" font-size="8.91" text-anchor="end" textLength="8.40" lengthAdjust="spacingAndGlyphs">20</text>
<line x1="456.20" y1="237.02" x2="459.20" y2="237.02" stroke="#666" stroke-width="0.9" />
<text x="454.20" y="239.62" font-size="8.91" text-anchor="end" textLength="8.40" lengthAdjust="spacingAndGlyphs">25</text>
<line x1="456.20" y1="219.75" x2="459.20" y2="219.75" stroke="#666" stroke-width="0.9" />
<text x="454.20" y="222.35" font-size="8.91" text-anchor="end" textLength="8.40" lengthAdjust="spacingAndGlyphs">30</text>
<line x1="456.20" y1="202.47" x2="459.20" y2="202.47" stroke="#666" stroke-width="0.9" />
<text x="454.20" y="205.07" font-size="8.91" text-anchor="end" textLength="8.40" lengthAdjust="spacingAndGlyphs">35</text>
<text x="522.95" y="344.00" font-size="9.0" text-anchor="middle" textLength="109.50" lengthAdjust="spacingAndGlyphs"># of Convergent complexes</text>
<text x="434.30" y="261.20" font-size="9.0" text-anchor="middle" textLength="103.80" lengthAdjust="spacingAndGlyphs" transform="rotate(-90 434.30 261.20)">% of Cell Cycle complexes</text>
<text x="443.30" y="261.20" font-size="9.0" text-anchor="middle" textLength="119.60" lengthAdjust="spacingAndGlyphs" transform="rotate(-90 443.30 261.20)">among Convergent complexes</text>
<circle cx="484.30" cy="288.85" r="2.2" fill="#f59a2f"/>
<circle cx="564.62" cy="216.47" r="1.8" fill="none" stroke="#f59a2f" stroke-width="0.8"/>
<circle cx="474.26" cy="265.81" r="2.2" fill="#e3262b"/>
<circle cx="562.11" cy="213.88" r="1.8" fill="none" stroke="#e3262b" stroke-width="0.8"/>
<circle cx="494.34" cy="298.73" r="2.2" fill="#2d7a3a"/>
<circle cx="559.60" cy="262.94" r="1.8" fill="none" stroke="#2d7a3a" stroke-width="0.8"/>
<rect x="590.6" y="202.9" width="78.5" height="72.2" rx="1.5" fill="#fff" stroke="#ddd" stroke-width="0.8"/>
<circle cx="601.8" cy="209.40" r="2.2" fill="#f59a2f"/>
<text x="616.00" y="212.60" font-size="9.2" textLength="49.60" lengthAdjust="spacingAndGlyphs">Absolute 10t</text>
<circle cx="601.8" cy="221.02" r="1.8" fill="none" stroke="#f59a2f" stroke-width="0.8"/>
<text x="616.00" y="224.22" font-size="9.2" textLength="48.80" lengthAdjust="spacingAndGlyphs">Relative_10t</text>
<circle cx="601.8" cy="232.64" r="2.2" fill="#e3262b"/>
<text x="616.00" y="235.84" font-size="9.2" textLength="44.80" lengthAdjust="spacingAndGlyphs">Absolute 4t</text>
<circle cx="601.8" cy="244.26" r="1.8" fill="none" stroke="#e3262b" stroke-width="0.8"/>
<text x="616.00" y="247.46" font-size="9.2" textLength="44.00" lengthAdjust="spacingAndGlyphs">Relative_4t</text>
<circle cx="601.8" cy="255.88" r="2.2" fill="#2d7a3a"/>
<text x="616.00" y="259.08" font-size="9.2" textLength="44.80" lengthAdjust="spacingAndGlyphs">Absolute 3t</text>
<circle cx="601.8" cy="267.50" r="1.8" fill="none" stroke="#2d7a3a" stroke-width="0.8"/>
<text x="616.00" y="270.70" font-size="9.2" textLength="42.00" lengthAdjust="spacingAndGlyphs">Relative 3t</text>
<rect x="42.50" y="393.20" width="120.00" height="101.70" fill="none" stroke="#7a7a7a" stroke-width="0.8"/>
<rect x="164.40" y="393.20" width="120.40" height="101.70" fill="none" stroke="#7a7a7a" stroke-width="0.8"/>
<line x1="39.50" y1="487.30" x2="42.50" y2="487.30" stroke="#666" stroke-width="0.9" />
<text x="37.30" y="489.90" font-size="8.91" text-anchor="end" textLength="10.50" lengthAdjust="spacingAndGlyphs">0.0</text>
<line x1="39.50" y1="472.30" x2="42.50" y2="472.30" stroke="#666" stroke-width="0.9" />
<text x="37.30" y="474.90" font-size="8.91" text-anchor="end" textLength="10.50" lengthAdjust="spacingAndGlyphs">0.2</text>
<line x1="39.50" y1="457.30" x2="42.50" y2="457.30" stroke="#666" stroke-width="0.9" />
<text x="37.30" y="459.90" font-size="8.91" text-anchor="end" textLength="10.50" lengthAdjust="spacingAndGlyphs">0.4</text>
<line x1="39.50" y1="442.30" x2="42.50" y2="442.30" stroke="#666" stroke-width="0.9" />
<text x="37.30" y="444.90" font-size="8.91" text-anchor="end" textLength="10.50" lengthAdjust="spacingAndGlyphs">0.6</text>
<line x1="39.50" y1="427.30" x2="42.50" y2="427.30" stroke="#666" stroke-width="0.9" />
<text x="37.30" y="429.90" font-size="8.91" text-anchor="end" textLength="10.50" lengthAdjust="spacingAndGlyphs">0.8</text>
<line x1="39.50" y1="412.30" x2="42.50" y2="412.30" stroke="#666" stroke-width="0.9" />
<text x="37.30" y="414.90" font-size="8.91" text-anchor="end" textLength="10.50" lengthAdjust="spacingAndGlyphs">1.0</text>
<line x1="39.50" y1="397.30" x2="42.50" y2="397.30" stroke="#666" stroke-width="0.9" />
<text x="37.30" y="399.90" font-size="8.91" text-anchor="end" textLength="10.50" lengthAdjust="spacingAndGlyphs">1.2</text>
<line x1="59.40" y1="494.90" x2="59.40" y2="497.90" stroke="#666" stroke-width="0.9" />
<text x="59.40" y="505.60" font-size="8.91" text-anchor="middle" textLength="8.40" lengthAdjust="spacingAndGlyphs">40</text>
<line x1="96.05" y1="494.90" x2="96.05" y2="497.90" stroke="#666" stroke-width="0.9" />
<text x="96.05" y="505.60" font-size="8.91" text-anchor="middle" textLength="8.40" lengthAdjust="spacingAndGlyphs">50</text>
<line x1="132.70" y1="494.90" x2="132.70" y2="497.90" stroke="#666" stroke-width="0.9" />
<text x="132.70" y="505.60" font-size="8.91" text-anchor="middle" textLength="8.40" lengthAdjust="spacingAndGlyphs">60</text>
<text x="102.60" y="517.20" font-size="9.0" text-anchor="middle" textLength="67.80" lengthAdjust="spacingAndGlyphs">Temperature (°C)</text>
<line x1="181.40" y1="494.90" x2="181.40" y2="497.90" stroke="#666" stroke-width="0.9" />
<text x="181.40" y="505.60" font-size="8.91" text-anchor="middle" textLength="8.40" lengthAdjust="spacingAndGlyphs">40</text>
<line x1="218.05" y1="494.90" x2="218.05" y2="497.90" stroke="#666" stroke-width="0.9" />
<text x="218.05" y="505.60" font-size="8.91" text-anchor="middle" textLength="8.40" lengthAdjust="spacingAndGlyphs">50</text>
<line x1="254.70" y1="494.90" x2="254.70" y2="497.90" stroke="#666" stroke-width="0.9" />
<text x="254.70" y="505.60" font-size="8.91" text-anchor="middle" textLength="8.40" lengthAdjust="spacingAndGlyphs">60</text>
<text x="224.60" y="517.20" font-size="9.0" text-anchor="middle" textLength="67.80" lengthAdjust="spacingAndGlyphs">Temperature (°C)</text>
<text x="22.40" y="443.50" font-size="9.0" text-anchor="middle" textLength="63.60" lengthAdjust="spacingAndGlyphs" transform="rotate(-90 22.40 443.50)">Soluble Fraction</text>
<text x="160.00" y="376.00" font-size="9.4" text-anchor="middle" textLength="66.10" lengthAdjust="spacingAndGlyphs">ComplexID:278</text>
<text x="160.00" y="384.60" font-size="9.4" text-anchor="middle" textLength="77.80" lengthAdjust="spacingAndGlyphs">RFC core complex</text>
<text x="133.30" y="412.40" font-size="11.6" text-anchor="middle" textLength="30.20" lengthAdjust="spacingAndGlyphs">DMSO</text>
<text x="258.20" y="412.20" font-size="11.6" text-anchor="middle" textLength="22.30" lengthAdjust="spacingAndGlyphs">MTX</text>
<polyline points="47.49,412.58 49.32,411.47 51.15,410.62 52.99,410.02 54.82,409.65 56.65,409.52 58.48,409.62 60.32,409.93 62.15,410.44 63.98,411.15 65.81,412.06 67.65,413.14 69.48,414.39 71.31,415.80 73.14,417.37 74.98,419.08 76.81,420.92 78.64,422.89 80.47,424.97 82.31,427.15 84.14,429.42 85.97,431.78 87.80,434.21 89.64,436.70 91.47,439.24 93.30,441.82 95.13,444.44 96.97,447.06 98.80,449.70 100.63,452.33 102.46,454.94 104.30,457.52 106.13,460.06 107.96,462.55 109.79,464.98 111.63,467.33 113.46,469.59 115.29,471.75 117.12,473.79 118.96,475.70 120.79,477.48 122.62,479.10 124.45,480.56 126.29,481.83 128.12,482.91 129.95,483.79 131.78,484.44 133.62,484.86 135.45,485.02 137.28,484.93 139.11,484.56 140.95,483.89 142.78,482.92 144.61,481.63 146.44,480.00 148.28,478.01 150.11,475.67 151.94,472.94 153.77,469.81 155.61,466.27 157.44,462.30" fill="none" stroke="#3a7bb5" stroke-width="1.3"/>
<polyline points="47.49,412.89 49.32,412.11 51.15,411.57 52.99,411.27 54.82,411.19 56.65,411.33 58.48,411.67 60.32,412.21 62.15,412.95 63.98,413.87 65.81,414.96 67.65,416.21 69.48,417.62 71.31,419.18 73.14,420.87 74.98,422.69 76.81,424.63 78.64,426.68 80.47,428.83 82.31,431.07 84.14,433.38 85.97,435.77 87.80,438.21 89.64,440.71 91.47,443.24 93.30,445.80 95.13,448.37 96.97,450.96 98.80,453.54 100.63,456.10 102.46,458.64 104.30,461.14 106.13,463.59 107.96,465.98 109.79,468.31 111.63,470.54 113.46,472.69 115.29,474.72 117.12,476.64 118.96,478.43 120.79,480.07 122.62,481.56 124.45,482.88 126.29,484.02 128.12,484.97 129.95,485.71 131.78,486.24 133.62,486.53 135.45,486.58 137.28,486.37 139.11,485.89 140.95,485.13 142.78,484.07 144.61,482.70 146.44,481.00 148.28,478.96 150.11,476.57 151.94,473.82 153.77,470.68 155.61,467.15 157.44,463.20" fill="none" stroke="#f5883a" stroke-width="1.3"/>
<polyline points="47.49,413.07 49.32,412.34 51.15,411.87 52.99,411.63 54.82,411.61 56.65,411.82 58.48,412.23 60.32,412.84 62.15,413.64 63.98,414.62 65.81,415.77 67.65,417.08 69.48,418.53 71.31,420.13 73.14,421.86 74.98,423.71 76.81,425.67 78.64,427.73 80.47,429.88 82.31,432.11 84.14,434.42 85.97,436.78 87.80,439.19 89.64,441.64 91.47,444.12 93.30,446.62 95.13,449.13 96.97,451.64 98.80,454.13 100.63,456.61 102.46,459.05 104.30,461.45 106.13,463.79 107.96,466.07 109.79,468.27 111.63,470.39 113.46,472.41 115.29,474.33 117.12,476.12 118.96,477.79 120.79,479.32 122.62,480.70 124.45,481.91 126.29,482.96 128.12,483.82 129.95,484.48 131.78,484.94 133.62,485.18 135.45,485.20 137.28,484.98 139.11,484.50 140.95,483.76 142.78,482.75 144.61,481.46 146.44,479.87 148.28,477.97 150.11,475.76 151.94,473.21 153.77,470.33 155.61,467.09 157.44,463.48" fill="none" stroke="#4aa04a" stroke-width="1.3"/>
<polyline points="169.49,410.77 171.32,410.44 173.15,410.32 174.99,410.39 176.82,410.64 178.65,411.08 180.48,411.69 182.32,412.46 184.15,413.40 185.98,414.49 187.81,415.73 189.65,417.11 191.48,418.62 193.31,420.25 195.14,422.00 196.98,423.87 198.81,425.83 200.64,427.89 202.47,430.03 204.31,432.25 206.14,434.54 207.97,436.88 209.80,439.28 211.64,441.72 213.47,444.19 215.30,446.69 217.13,449.20 218.97,451.71 220.80,454.22 222.63,456.71 224.46,459.18 226.30,461.61 228.13,464.00 229.96,466.33 231.79,468.59 233.63,470.77 235.46,472.86 237.29,474.86 239.12,476.74 240.96,478.50 242.79,480.13 244.62,481.60 246.45,482.92 248.29,484.07 250.12,485.04 251.95,485.81 253.78,486.38 255.62,486.72 257.45,486.84 259.28,486.70 261.11,486.31 262.95,485.64 264.78,484.69 266.61,483.44 268.44,481.88 270.28,479.99 272.11,477.76 273.94,475.17 275.77,472.22 277.61,468.88 279.44,465.14" fill="none" stroke="#3a7bb5" stroke-width="1.3"/>
<polyline points="169.49,410.82 171.32,410.46 173.15,410.30 174.99,410.34 176.82,410.57 178.65,410.99 180.48,411.59 182.32,412.36 184.15,413.30 185.98,414.39 187.81,415.63 189.65,417.01 191.48,418.52 193.31,420.16 195.14,421.91 196.98,423.78 198.81,425.74 200.64,427.80 202.47,429.94 204.31,432.15 206.14,434.44 207.97,436.77 209.80,439.16 211.64,441.58 213.47,444.04 215.30,446.51 217.13,449.00 218.97,451.49 220.80,453.97 222.63,456.43 224.46,458.86 226.30,461.25 228.13,463.60 229.96,465.89 231.79,468.11 233.63,470.25 235.46,472.30 237.29,474.25 239.12,476.09 240.96,477.80 242.79,479.38 244.62,480.82 246.45,482.11 248.29,483.22 250.12,484.16 251.95,484.91 253.78,485.45 255.62,485.79 257.45,485.89 259.28,485.76 261.11,485.38 262.95,484.74 264.78,483.82 266.61,482.62 268.44,481.12 270.28,479.30 272.11,477.16 273.94,474.69 275.77,471.86 277.61,468.67 279.44,465.10" fill="none" stroke="#f5883a" stroke-width="1.3"/>
<polyline points="169.49,410.86 171.32,410.46 173.15,410.27 174.99,410.29 176.82,410.51 178.65,410.93 180.48,411.53 182.32,412.30 184.15,413.24 185.98,414.34 187.81,415.59 189.65,416.98 191.48,418.51 193.31,420.16 195.14,421.93 196.98,423.81 198.81,425.78 200.64,427.85 202.47,429.99 204.31,432.21 206.14,434.49 207.97,436.83 209.80,439.21 211.64,441.62 213.47,444.06 215.30,446.52 217.13,448.98 218.97,451.44 220.80,453.89 222.63,456.32 224.46,458.72 226.30,461.07 228.13,463.38 229.96,465.62 231.79,467.79 233.63,469.88 235.46,471.88 237.29,473.78 239.12,475.57 240.96,477.23 242.79,478.77 244.62,480.15 246.45,481.39 248.29,482.46 250.12,483.36 251.95,484.08 253.78,484.59 255.62,484.90 257.45,485.00 259.28,484.86 261.11,484.48 262.95,483.86 264.78,482.97 266.61,481.81 268.44,480.36 270.28,478.62 272.11,476.57 273.94,474.20 275.77,471.50 277.61,468.46 279.44,465.07" fill="none" stroke="#4aa04a" stroke-width="1.3"/>
<rect x="288.1" y="396.6" width="45.5" height="34.1" rx="1.5" fill="#fff" stroke="#ddd" stroke-width="0.8"/>
<line x1="291.50" y1="402.40" x2="306.20" y2="402.40" stroke="#3a7bb5" stroke-width="1.3" />
<text x="311.40" y="404.80" font-size="8.2" textLength="18.90" lengthAdjust="spacingAndGlyphs">RFC4</text>
<line x1="291.50" y1="412.95" x2="306.20" y2="412.95" stroke="#f5883a" stroke-width="1.3" />
<text x="311.40" y="415.35" font-size="8.2" textLength="18.90" lengthAdjust="spacingAndGlyphs">RFC2</text>
<line x1="291.50" y1="423.50" x2="306.20" y2="423.50" stroke="#4aa04a" stroke-width="1.3" />
<text x="311.40" y="425.90" font-size="8.2" textLength="18.90" lengthAdjust="spacingAndGlyphs">RFC5</text>
<rect x="397.00" y="393.40" width="118.60" height="101.00" fill="none" stroke="#7a7a7a" stroke-width="0.8"/>
<rect x="517.40" y="393.20" width="119.40" height="101.20" fill="none" stroke="#7a7a7a" stroke-width="0.8"/>
<line x1="394.00" y1="487.30" x2="397.00" y2="487.30" stroke="#666" stroke-width="0.9" />
<text x="391.80" y="489.90" font-size="8.91" text-anchor="end" textLength="10.50" lengthAdjust="spacingAndGlyphs">0.0</text>
<line x1="394.00" y1="472.30" x2="397.00" y2="472.30" stroke="#666" stroke-width="0.9" />
<text x="391.80" y="474.90" font-size="8.91" text-anchor="end" textLength="10.50" lengthAdjust="spacingAndGlyphs">0.2</text>
<line x1="394.00" y1="457.30" x2="397.00" y2="457.30" stroke="#666" stroke-width="0.9" />
<text x="391.80" y="459.90" font-size="8.91" text-anchor="end" textLength="10.50" lengthAdjust="spacingAndGlyphs">0.4</text>
<line x1="394.00" y1="442.30" x2="397.00" y2="442.30" stroke="#666" stroke-width="0.9" />
<text x="391.80" y="444.90" font-size="8.91" text-anchor="end" textLength="10.50" lengthAdjust="spacingAndGlyphs">0.6</text>
<line x1="394.00" y1="427.30" x2="397.00" y2="427.30" stroke="#666" stroke-width="0.9" />
<text x="391.80" y="429.90" font-size="8.91" text-anchor="end" textLength="10.50" lengthAdjust="spacingAndGlyphs">0.8</text>
<line x1="394.00" y1="412.30" x2="397.00" y2="412.30" stroke="#666" stroke-width="0.9" />
<text x="391.80" y="414.90" font-size="8.91" text-anchor="end" textLength="10.50" lengthAdjust="spacingAndGlyphs">1.0</text>
<line x1="394.00" y1="397.30" x2="397.00" y2="397.30" stroke="#666" stroke-width="0.9" />
<text x="391.80" y="399.90" font-size="8.91" text-anchor="end" textLength="10.50" lengthAdjust="spacingAndGlyphs">1.2</text>
<line x1="406.70" y1="494.40" x2="406.70" y2="497.40" stroke="#666" stroke-width="0.9" />
<text x="406.70" y="505.60" font-size="8.91" text-anchor="middle" textLength="8.40" lengthAdjust="spacingAndGlyphs">37</text>
<line x1="439.60" y1="494.40" x2="439.60" y2="497.40" stroke="#666" stroke-width="0.9" />
<text x="439.60" y="505.60" font-size="8.91" text-anchor="middle" textLength="8.40" lengthAdjust="spacingAndGlyphs">46</text>
<line x1="473.00" y1="494.40" x2="473.00" y2="497.40" stroke="#666" stroke-width="0.9" />
<text x="473.00" y="505.60" font-size="8.91" text-anchor="middle" textLength="8.40" lengthAdjust="spacingAndGlyphs">55</text>
<line x1="505.80" y1="494.40" x2="505.80" y2="497.40" stroke="#666" stroke-width="0.9" />
<text x="505.80" y="505.60" font-size="8.91" text-anchor="middle" textLength="8.40" lengthAdjust="spacingAndGlyphs">61</text>
<text x="456.25" y="516.80" font-size="9.0" text-anchor="middle" textLength="67.50" lengthAdjust="spacingAndGlyphs">Temperature (°C)</text>
<line x1="527.90" y1="494.40" x2="527.90" y2="497.40" stroke="#666" stroke-width="0.9" />
<text x="527.90" y="505.60" font-size="8.91" text-anchor="middle" textLength="8.40" lengthAdjust="spacingAndGlyphs">37</text>
<line x1="561.00" y1="494.40" x2="561.00" y2="497.40" stroke="#666" stroke-width="0.9" />
<text x="561.00" y="505.60" font-size="8.91" text-anchor="middle" textLength="8.40" lengthAdjust="spacingAndGlyphs">46</text>
<line x1="593.80" y1="494.40" x2="593.80" y2="497.40" stroke="#666" stroke-width="0.9" />
<text x="593.80" y="505.60" font-size="8.91" text-anchor="middle" textLength="8.40" lengthAdjust="spacingAndGlyphs">55</text>
<line x1="626.60" y1="494.40" x2="626.60" y2="497.40" stroke="#666" stroke-width="0.9" />
<text x="626.60" y="505.60" font-size="8.91" text-anchor="middle" textLength="8.40" lengthAdjust="spacingAndGlyphs">61</text>
<text x="577.25" y="516.80" font-size="9.0" text-anchor="middle" textLength="67.50" lengthAdjust="spacingAndGlyphs">Temperature (°C)</text>
<text x="377.00" y="443.50" font-size="9.0" text-anchor="middle" textLength="63.60" lengthAdjust="spacingAndGlyphs" transform="rotate(-90 377.00 443.50)">Soluble Fraction</text>
<text x="513.30" y="376.20" font-size="9.4" text-anchor="middle" textLength="66.10" lengthAdjust="spacingAndGlyphs">ComplexID:278</text>
<text x="513.30" y="384.80" font-size="9.4" text-anchor="middle" textLength="77.80" lengthAdjust="spacingAndGlyphs">RFC core complex</text>
<text x="488.20" y="412.30" font-size="11.6" text-anchor="middle" textLength="30.00" lengthAdjust="spacingAndGlyphs">DMSO</text>
<text x="611.20" y="412.30" font-size="11.6" text-anchor="middle" textLength="21.50" lengthAdjust="spacingAndGlyphs">MTX</text>
<polyline points="406.70,412.30 439.60,418.30 473.00,473.43 505.80,482.05" fill="none" stroke="#3a7bb5" stroke-width="1.35"/>
<circle cx="406.70" cy="412.30" r="2.1" fill="#3a7bb5"/>
<circle cx="439.60" cy="418.30" r="2.1" fill="#3a7bb5"/>
<circle cx="473.00" cy="473.43" r="2.1" fill="#3a7bb5"/>
<circle cx="505.80" cy="482.05" r="2.1" fill="#3a7bb5"/>
<polyline points="406.70,412.30 439.60,423.55 473.00,476.05 505.80,482.80" fill="none" stroke="#f5883a" stroke-width="1.35"/>
<circle cx="406.70" cy="412.30" r="2.1" fill="#f5883a"/>
<circle cx="439.60" cy="423.55" r="2.1" fill="#f5883a"/>
<circle cx="473.00" cy="476.05" r="2.1" fill="#f5883a"/>
<circle cx="505.80" cy="482.80" r="2.1" fill="#f5883a"/>
<polyline points="406.70,412.30 439.60,425.05 473.00,475.53 505.80,481.30" fill="none" stroke="#4aa04a" stroke-width="1.35"/>
<circle cx="406.70" cy="412.30" r="2.1" fill="#4aa04a"/>
<circle cx="439.60" cy="425.05" r="2.1" fill="#4aa04a"/>
<circle cx="473.00" cy="475.53" r="2.1" fill="#4aa04a"/>
<circle cx="505.80" cy="481.30" r="2.1" fill="#4aa04a"/>
<polyline points="527.90,412.30 561.00,425.43 593.80,475.53 626.60,482.05" fill="none" stroke="#3a7bb5" stroke-width="1.35"/>
<circle cx="527.90" cy="412.30" r="2.1" fill="#3a7bb5"/>
<circle cx="561.00" cy="425.43" r="2.1" fill="#3a7bb5"/>
<circle cx="593.80" cy="475.53" r="2.1" fill="#3a7bb5"/>
<circle cx="626.60" cy="482.05" r="2.1" fill="#3a7bb5"/>
<polyline points="527.90,412.30 561.00,425.80 593.80,473.80 626.60,481.30" fill="none" stroke="#f5883a" stroke-width="1.35"/>
<circle cx="527.90" cy="412.30" r="2.1" fill="#f5883a"/>
<circle cx="561.00" cy="425.80" r="2.1" fill="#f5883a"/>
<circle cx="593.80" cy="473.80" r="2.1" fill="#f5883a"/>
<circle cx="626.60" cy="481.30" r="2.1" fill="#f5883a"/>
<polyline points="527.90,412.30 561.00,425.80 593.80,473.05 626.60,480.55" fill="none" stroke="#4aa04a" stroke-width="1.35"/>
<circle cx="527.90" cy="412.30" r="2.1" fill="#4aa04a"/>
<circle cx="561.00" cy="425.80" r="2.1" fill="#4aa04a"/>
<circle cx="593.80" cy="473.05" r="2.1" fill="#4aa04a"/>
<circle cx="626.60" cy="480.55" r="2.1" fill="#4aa04a"/>
<rect x="640.0" y="396.7" width="43.9" height="34.4" rx="1.5" fill="#fff" stroke="#ddd" stroke-width="0.8"/>
<line x1="642.70" y1="402.90" x2="658.30" y2="402.90" stroke="#3a7bb5" stroke-width="1.35" />
<circle cx="650.5" cy="402.90" r="2.1" fill="#3a7bb5"/>
<text x="663.20" y="405.30" font-size="8.2" textLength="18.00" lengthAdjust="spacingAndGlyphs">RFC4</text>
<line x1="642.70" y1="413.25" x2="658.30" y2="413.25" stroke="#f5883a" stroke-width="1.35" />
<circle cx="650.5" cy="413.25" r="2.1" fill="#f5883a"/>
<text x="663.20" y="415.65" font-size="8.2" textLength="18.00" lengthAdjust="spacingAndGlyphs">RFC2</text>
<line x1="642.70" y1="423.60" x2="658.30" y2="423.60" stroke="#4aa04a" stroke-width="1.35" />
<circle cx="650.5" cy="423.60" r="2.1" fill="#4aa04a"/>
<text x="663.20" y="426.00" font-size="8.2" textLength="18.00" lengthAdjust="spacingAndGlyphs">RFC5</text>
</svg></body></html>
